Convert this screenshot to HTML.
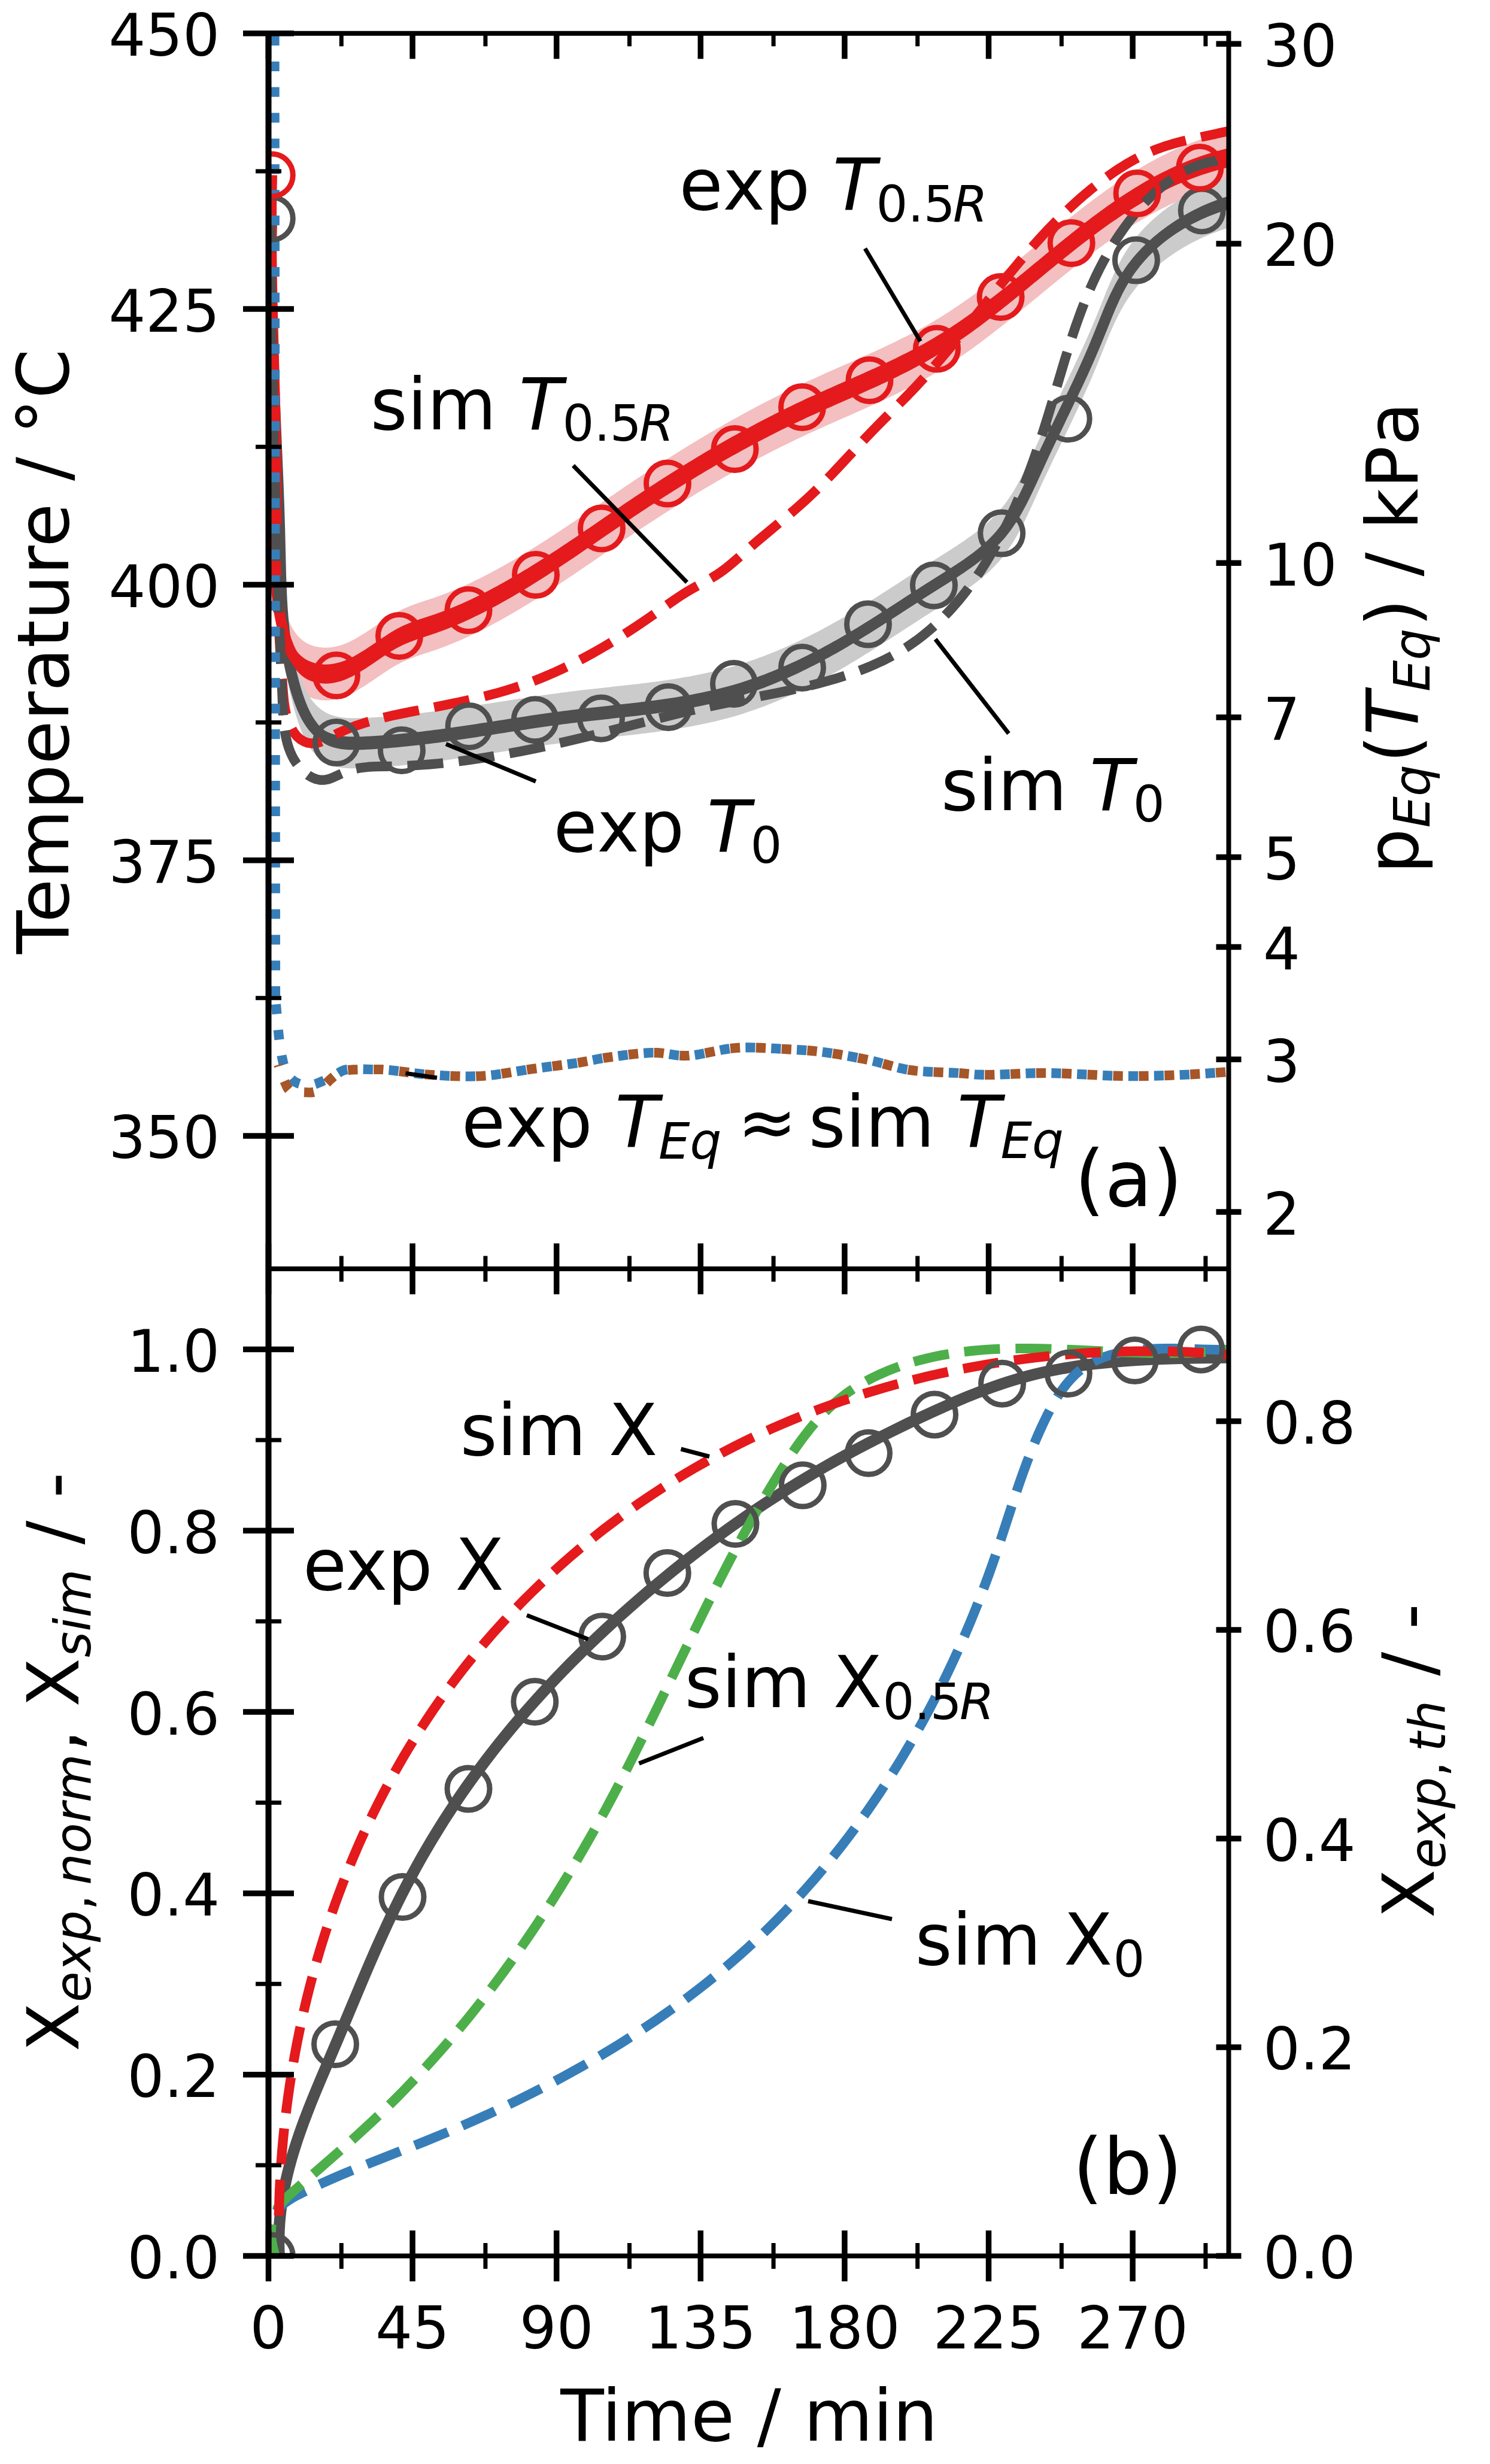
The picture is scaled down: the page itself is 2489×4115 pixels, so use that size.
<!DOCTYPE html>
<html><head><meta charset="utf-8"><title>Figure</title>
<style>html,body{margin:0;padding:0;background:#fff;}svg{display:block;}</style>
</head><body>
<svg xmlns:xlink="http://www.w3.org/1999/xlink" width="2489" height="4115" viewBox="0 0 2489 4115" xmlns="http://www.w3.org/2000/svg" version="1.1">
 <defs>
  <style type="text/css">*{stroke-linejoin: round; stroke-linecap: butt}</style>
 </defs>
 <g id="figure_1">
  <g id="patch_1">
   <path d="M 0 4115 
L 2489 4115 
L 2489 0 
L 0 0 
z
" style="fill: #ffffff"/>
  </g>
  <g id="axes_1">
   <g id="patch_2">
    <path d="M 454.02 248.48 
L 453.86 255.07 
L 453.72 261.66 
L 453.6 268.26 
L 453.48 274.85 
L 453.38 281.44 
L 453.29 288.03 
L 453.22 294.62 
L 453.15 301.2 
L 453.1 307.79 
L 453.07 314.38 
L 453.04 320.97 
L 453.02 327.55 
L 453.02 334.14 
L 453.02 340.72 
L 453.04 347.3 
L 453.06 353.89 
L 453.1 360.47 
L 453.14 367.05 
L 453.2 373.63 
L 453.26 380.21 
L 453.33 386.79 
L 453.41 393.37 
L 453.5 399.95 
L 453.59 406.53 
L 453.69 413.11 
L 453.8 419.68 
L 453.91 426.26 
L 454.03 432.84 
L 454.16 439.41 
L 454.29 445.99 
L 454.43 452.56 
L 454.57 459.14 
L 454.72 465.71 
L 454.87 472.29 
L 455.03 478.86 
L 455.19 485.44 
L 455.35 492.01 
L 455.52 498.58 
L 455.69 505.16 
L 455.86 511.73 
L 456.03 518.3 
L 456.21 524.87 
L 456.39 531.45 
L 456.57 538.02 
L 456.74 544.59 
L 456.93 551.16 
L 457.11 557.73 
L 457.29 564.3 
L 457.47 570.88 
L 457.65 577.45 
L 457.83 584.02 
L 458 590.59 
L 458.18 597.16 
L 458.36 603.73 
L 458.53 610.3 
L 458.7 616.87 
L 458.87 623.44 
L 459.03 630.02 
L 459.19 636.59 
L 459.35 643.16 
L 459.5 649.73 
L 459.65 656.3 
L 459.8 662.87 
L 459.94 669.45 
L 460.07 676.02 
L 460.2 682.59 
L 460.32 689.16 
L 460.44 695.74 
L 460.55 702.31 
L 460.66 708.88 
L 460.75 715.45 
L 460.84 722.03 
L 460.92 728.6 
L 461 735.18 
L 461.06 741.75 
L 461.12 748.33 
L 461.17 754.9 
L 461.21 761.48 
L 461.24 768.05 
L 461.26 774.63 
L 461.27 781.21 
L 461.27 787.78 
L 461.26 794.36 
L 461.23 800.94 
L 461.2 807.52 
L 461.15 814.1 
L 461.1 820.68 
L 461.03 827.26 
L 460.94 833.84 
L 460.85 840.42 
L 460.74 847 
L 460.64 853.59 
L 460.54 860.17 
L 460.45 866.76 
L 460.37 873.34 
L 460.32 879.93 
L 460.3 886.52 
L 460.32 893.11 
L 460.37 899.71 
L 460.48 906.3 
L 460.64 912.9 
L 460.87 919.5 
L 461.16 926.1 
L 461.52 932.71 
L 461.97 939.32 
L 462.5 945.93 
L 463.13 952.54 
L 463.86 959.16 
L 464.69 965.78 
L 465.64 972.41 
L 466.7 979.04 
L 467.89 985.67 
L 469.21 992.31 
L 470.67 998.95 
L 472.28 1005.6 
L 474.03 1012.25 
L 475.96 1018.86 
L 478.07 1025.38 
L 480.4 1031.77 
L 482.95 1037.98 
L 485.75 1043.95 
L 488.83 1049.63 
L 492.19 1054.98 
L 495.87 1059.94 
L 499.88 1064.47 
L 504.24 1068.51 
L 508.97 1072.01 
L 514.06 1074.96 
L 519.46 1077.36 
L 525.12 1079.23 
L 530.99 1080.56 
L 537.03 1081.37 
L 543.17 1081.68 
L 549.38 1081.48 
L 555.59 1080.79 
L 561.78 1079.61 
L 567.9 1077.98 
L 573.97 1075.93 
L 579.98 1073.5 
L 585.95 1070.74 
L 591.89 1067.68 
L 597.79 1064.37 
L 603.66 1060.85 
L 609.51 1057.15 
L 615.34 1053.32 
L 621.15 1049.4 
L 626.97 1045.43 
L 632.78 1041.45 
L 638.59 1037.51 
L 644.41 1033.63 
L 650.25 1029.87 
L 656.11 1026.27 
L 662 1022.86 
L 667.91 1019.69 
L 673.86 1016.79 
L 679.85 1014.14 
L 685.86 1011.69 
L 691.9 1009.42 
L 697.95 1007.28 
L 704.02 1005.23 
L 710.1 1003.23 
L 716.18 1001.24 
L 722.26 999.23 
L 728.33 997.15 
L 734.4 994.98 
L 740.45 992.74 
L 746.5 990.42 
L 752.53 988.02 
L 758.55 985.55 
L 764.56 983 
L 770.56 980.4 
L 776.54 977.72 
L 782.51 974.98 
L 788.46 972.19 
L 794.39 969.33 
L 800.31 966.43 
L 806.21 963.47 
L 812.09 960.46 
L 817.95 957.4 
L 823.79 954.31 
L 829.61 951.17 
L 835.41 947.99 
L 841.18 944.78 
L 846.94 941.53 
L 852.67 938.25 
L 858.37 934.94 
L 864.06 931.61 
L 869.73 928.24 
L 875.37 924.84 
L 881 921.42 
L 886.61 917.98 
L 892.21 914.5 
L 897.79 911.01 
L 903.35 907.5 
L 908.9 903.96 
L 914.43 900.4 
L 919.96 896.83 
L 925.47 893.24 
L 930.97 889.63 
L 936.45 886 
L 941.93 882.37 
L 947.4 878.72 
L 952.86 875.06 
L 958.32 871.38 
L 963.76 867.7 
L 969.21 864.01 
L 974.64 860.31 
L 980.07 856.61 
L 985.5 852.9 
L 990.93 849.19 
L 996.35 845.47 
L 1001.78 841.76 
L 1007.2 838.04 
L 1012.62 834.32 
L 1018.05 830.61 
L 1023.47 826.9 
L 1028.9 823.19 
L 1034.34 819.49 
L 1039.77 815.79 
L 1045.21 812.1 
L 1050.66 808.42 
L 1056.12 804.75 
L 1061.58 801.09 
L 1067.05 797.45 
L 1072.53 793.81 
L 1078.02 790.19 
L 1083.52 786.58 
L 1089.02 782.98 
L 1094.53 779.4 
L 1100.05 775.83 
L 1105.58 772.27 
L 1111.12 768.72 
L 1116.67 765.19 
L 1122.23 761.68 
L 1127.79 758.17 
L 1133.37 754.69 
L 1138.95 751.22 
L 1144.55 747.76 
L 1150.15 744.32 
L 1155.76 740.89 
L 1161.38 737.48 
L 1167.01 734.09 
L 1172.65 730.71 
L 1178.3 727.35 
L 1183.96 724 
L 1189.63 720.67 
L 1195.31 717.36 
L 1201 714.07 
L 1206.7 710.8 
L 1212.4 707.54 
L 1218.12 704.3 
L 1223.85 701.08 
L 1229.59 697.88 
L 1235.34 694.7 
L 1241.1 691.53 
L 1246.87 688.39 
L 1252.65 685.26 
L 1258.44 682.16 
L 1264.24 679.07 
L 1270.06 676.01 
L 1275.88 672.96 
L 1281.71 669.94 
L 1287.56 666.94 
L 1293.41 663.96 
L 1299.28 661 
L 1305.16 658.06 
L 1311.05 655.14 
L 1316.95 652.25 
L 1322.86 649.38 
L 1328.78 646.53 
L 1334.72 643.71 
L 1340.67 640.9 
L 1346.62 638.12 
L 1352.59 635.37 
L 1358.57 632.63 
L 1364.56 629.91 
L 1370.55 627.21 
L 1376.55 624.52 
L 1382.56 621.84 
L 1388.57 619.17 
L 1394.58 616.51 
L 1400.59 613.85 
L 1406.61 611.2 
L 1412.62 608.55 
L 1418.64 605.89 
L 1424.65 603.24 
L 1430.65 600.58 
L 1436.65 597.91 
L 1442.65 595.24 
L 1448.63 592.55 
L 1454.61 589.85 
L 1460.58 587.13 
L 1466.54 584.4 
L 1472.49 581.65 
L 1478.42 578.88 
L 1484.34 576.08 
L 1490.24 573.26 
L 1496.13 570.41 
L 1502 567.53 
L 1507.85 564.62 
L 1513.68 561.68 
L 1519.49 558.7 
L 1525.28 555.68 
L 1531.05 552.62 
L 1536.79 549.52 
L 1542.5 546.38 
L 1548.19 543.19 
L 1553.85 539.95 
L 1559.48 536.66 
L 1565.09 533.32 
L 1570.66 529.93 
L 1576.2 526.49 
L 1581.71 522.99 
L 1587.2 519.45 
L 1592.66 515.87 
L 1598.1 512.23 
L 1603.51 508.56 
L 1608.89 504.85 
L 1614.26 501.09 
L 1619.6 497.3 
L 1624.92 493.47 
L 1630.22 489.61 
L 1635.5 485.71 
L 1640.77 481.79 
L 1646.02 477.83 
L 1651.25 473.85 
L 1656.46 469.84 
L 1661.67 465.8 
L 1666.85 461.74 
L 1672.03 457.67 
L 1677.2 453.57 
L 1682.35 449.45 
L 1687.5 445.32 
L 1692.63 441.17 
L 1697.76 437.01 
L 1702.88 432.84 
L 1708 428.66 
L 1713.11 424.47 
L 1718.22 420.27 
L 1723.32 416.07 
L 1728.43 411.87 
L 1733.53 407.66 
L 1738.63 403.46 
L 1743.73 399.25 
L 1748.84 395.05 
L 1753.94 390.86 
L 1759.06 386.67 
L 1764.17 382.49 
L 1769.29 378.32 
L 1774.42 374.16 
L 1779.55 370.02 
L 1784.7 365.89 
L 1789.85 361.78 
L 1795.01 357.68 
L 1800.19 353.61 
L 1805.37 349.56 
L 1810.57 345.53 
L 1815.79 341.52 
L 1821.02 337.54 
L 1826.26 333.59 
L 1831.52 329.67 
L 1836.8 325.79 
L 1842.1 321.93 
L 1847.42 318.11 
L 1852.75 314.33 
L 1858.11 310.58 
L 1863.5 306.88 
L 1868.9 303.21 
L 1874.33 299.59 
L 1879.79 296.01 
L 1885.27 292.48 
L 1890.78 289 
L 1896.31 285.57 
L 1901.88 282.19 
L 1907.48 278.86 
L 1913.1 275.59 
L 1918.76 272.37 
L 1924.46 269.21 
L 1930.18 266.11 
L 1935.94 263.07 
L 1941.74 260.1 
L 1947.57 257.19 
L 1953.44 254.34 
L 1959.35 251.57 
L 1965.3 248.86 
L 1971.29 246.22 
L 1977.32 243.66 
L 1983.39 241.17 
L 1989.51 238.76 
L 1995.67 236.42 
L 2001.87 234.17 
L 2008.13 231.99 
L 2014.42 229.9 
L 2020.77 227.89 
L 2027.17 225.97 
L 2033.61 224.14 
L 2040.11 222.39 
L 2046.65 220.74 
L 2053.26 219.18 
L 2053.26 307.18 
L 2046.65 308.74 
L 2040.11 310.39 
L 2033.61 312.14 
L 2027.17 313.97 
L 2020.77 315.89 
L 2014.42 317.9 
L 2008.13 319.99 
L 2001.87 322.17 
L 1995.67 324.42 
L 1989.51 326.76 
L 1983.39 329.17 
L 1977.32 331.66 
L 1971.29 334.22 
L 1965.3 336.86 
L 1959.35 339.57 
L 1953.44 342.34 
L 1947.57 345.19 
L 1941.74 348.1 
L 1935.94 351.07 
L 1930.18 354.11 
L 1924.46 357.21 
L 1918.76 360.37 
L 1913.1 363.59 
L 1907.48 366.86 
L 1901.88 370.19 
L 1896.31 373.57 
L 1890.78 377 
L 1885.27 380.48 
L 1879.79 384.01 
L 1874.33 387.59 
L 1868.9 391.21 
L 1863.5 394.88 
L 1858.11 398.58 
L 1852.75 402.33 
L 1847.42 406.11 
L 1842.1 409.93 
L 1836.8 413.79 
L 1831.52 417.67 
L 1826.26 421.59 
L 1821.02 425.54 
L 1815.79 429.52 
L 1810.57 433.53 
L 1805.37 437.56 
L 1800.19 441.61 
L 1795.01 445.68 
L 1789.85 449.78 
L 1784.7 453.89 
L 1779.55 458.02 
L 1774.42 462.16 
L 1769.29 466.32 
L 1764.17 470.49 
L 1759.06 474.67 
L 1753.94 478.86 
L 1748.84 483.05 
L 1743.73 487.25 
L 1738.63 491.46 
L 1733.53 495.66 
L 1728.43 499.87 
L 1723.32 504.07 
L 1718.22 508.27 
L 1713.11 512.47 
L 1708 516.66 
L 1702.88 520.84 
L 1697.76 525.01 
L 1692.63 529.17 
L 1687.5 533.32 
L 1682.35 537.45 
L 1677.2 541.57 
L 1672.03 545.67 
L 1666.85 549.74 
L 1661.67 553.8 
L 1656.46 557.84 
L 1651.25 561.85 
L 1646.02 565.83 
L 1640.77 569.79 
L 1635.5 573.71 
L 1630.22 577.61 
L 1624.92 581.47 
L 1619.6 585.3 
L 1614.26 589.09 
L 1608.89 592.85 
L 1603.51 596.56 
L 1598.1 600.23 
L 1592.66 603.87 
L 1587.2 607.45 
L 1581.71 610.99 
L 1576.2 614.49 
L 1570.66 617.93 
L 1565.09 621.32 
L 1559.48 624.66 
L 1553.85 627.95 
L 1548.19 631.19 
L 1542.5 634.38 
L 1536.79 637.52 
L 1531.05 640.62 
L 1525.28 643.68 
L 1519.49 646.7 
L 1513.68 649.68 
L 1507.85 652.62 
L 1502 655.53 
L 1496.13 658.41 
L 1490.24 661.26 
L 1484.34 664.08 
L 1478.42 666.88 
L 1472.49 669.65 
L 1466.54 672.4 
L 1460.58 675.13 
L 1454.61 677.85 
L 1448.63 680.55 
L 1442.65 683.24 
L 1436.65 685.91 
L 1430.65 688.58 
L 1424.65 691.24 
L 1418.64 693.89 
L 1412.62 696.55 
L 1406.61 699.2 
L 1400.59 701.85 
L 1394.58 704.51 
L 1388.57 707.17 
L 1382.56 709.84 
L 1376.55 712.52 
L 1370.55 715.21 
L 1364.56 717.91 
L 1358.57 720.63 
L 1352.59 723.37 
L 1346.62 726.12 
L 1340.67 728.9 
L 1334.72 731.71 
L 1328.78 734.53 
L 1322.86 737.38 
L 1316.95 740.25 
L 1311.05 743.14 
L 1305.16 746.06 
L 1299.28 749 
L 1293.41 751.96 
L 1287.56 754.94 
L 1281.71 757.94 
L 1275.88 760.96 
L 1270.06 764.01 
L 1264.24 767.07 
L 1258.44 770.16 
L 1252.65 773.26 
L 1246.87 776.39 
L 1241.1 779.53 
L 1235.34 782.7 
L 1229.59 785.88 
L 1223.85 789.08 
L 1218.12 792.3 
L 1212.4 795.54 
L 1206.7 798.8 
L 1201 802.07 
L 1195.31 805.36 
L 1189.63 808.67 
L 1183.96 812 
L 1178.3 815.35 
L 1172.65 818.71 
L 1167.01 822.09 
L 1161.38 825.48 
L 1155.76 828.89 
L 1150.15 832.32 
L 1144.55 835.76 
L 1138.95 839.22 
L 1133.37 842.69 
L 1127.79 846.17 
L 1122.23 849.68 
L 1116.67 853.19 
L 1111.12 856.72 
L 1105.58 860.27 
L 1100.05 863.83 
L 1094.53 867.4 
L 1089.02 870.98 
L 1083.52 874.58 
L 1078.02 878.19 
L 1072.53 881.81 
L 1067.05 885.45 
L 1061.58 889.09 
L 1056.12 892.75 
L 1050.66 896.42 
L 1045.21 900.1 
L 1039.77 903.79 
L 1034.34 907.49 
L 1028.9 911.19 
L 1023.47 914.9 
L 1018.05 918.61 
L 1012.62 922.32 
L 1007.2 926.04 
L 1001.78 929.76 
L 996.35 933.47 
L 990.93 937.19 
L 985.5 940.9 
L 980.07 944.61 
L 974.64 948.31 
L 969.21 952.01 
L 963.76 955.7 
L 958.32 959.38 
L 952.86 963.06 
L 947.4 966.72 
L 941.93 970.37 
L 936.45 974 
L 930.97 977.63 
L 925.47 981.24 
L 919.96 984.83 
L 914.43 988.4 
L 908.9 991.96 
L 903.35 995.5 
L 897.79 999.01 
L 892.21 1002.5 
L 886.61 1005.98 
L 881 1009.42 
L 875.37 1012.84 
L 869.73 1016.24 
L 864.06 1019.61 
L 858.37 1022.94 
L 852.67 1026.25 
L 846.94 1029.53 
L 841.18 1032.78 
L 835.41 1035.99 
L 829.61 1039.17 
L 823.79 1042.31 
L 817.95 1045.4 
L 812.09 1048.46 
L 806.21 1051.47 
L 800.31 1054.43 
L 794.39 1057.33 
L 788.46 1060.19 
L 782.51 1062.98 
L 776.54 1065.72 
L 770.56 1068.4 
L 764.56 1071 
L 758.55 1073.55 
L 752.53 1076.02 
L 746.5 1078.42 
L 740.45 1080.74 
L 734.4 1082.98 
L 728.33 1085.15 
L 722.26 1087.23 
L 716.18 1089.24 
L 710.1 1091.23 
L 704.02 1093.23 
L 697.95 1095.28 
L 691.9 1097.42 
L 685.86 1099.69 
L 679.85 1102.14 
L 673.86 1104.79 
L 667.91 1107.69 
L 662 1110.86 
L 656.11 1114.27 
L 650.25 1117.87 
L 644.41 1121.63 
L 638.59 1125.51 
L 632.78 1129.45 
L 626.97 1133.43 
L 621.15 1137.4 
L 615.34 1141.32 
L 609.51 1145.15 
L 603.66 1148.85 
L 597.79 1152.37 
L 591.89 1155.68 
L 585.95 1158.74 
L 579.98 1161.5 
L 573.97 1163.93 
L 567.9 1165.98 
L 561.78 1167.61 
L 555.59 1168.79 
L 549.38 1169.48 
L 543.17 1169.68 
L 537.03 1169.37 
L 530.99 1168.56 
L 525.12 1167.23 
L 519.46 1165.36 
L 514.06 1162.96 
L 508.97 1160.01 
L 504.24 1156.51 
L 499.88 1152.47 
L 495.87 1147.94 
L 492.19 1142.98 
L 488.83 1137.63 
L 485.75 1131.95 
L 482.95 1125.98 
L 480.4 1119.77 
L 478.07 1113.38 
L 475.96 1106.86 
L 474.03 1100.25 
L 472.28 1093.6 
L 470.67 1086.95 
L 469.21 1080.31 
L 467.89 1073.67 
L 466.7 1067.04 
L 465.64 1060.41 
L 464.69 1053.78 
L 463.86 1047.16 
L 463.13 1040.54 
L 462.5 1033.93 
L 461.97 1027.32 
L 461.52 1020.71 
L 461.16 1014.1 
L 460.87 1007.5 
L 460.64 1000.9 
L 460.48 994.3 
L 460.37 987.71 
L 460.32 981.11 
L 460.3 974.52 
L 460.32 967.93 
L 460.37 961.34 
L 460.45 954.76 
L 460.54 948.17 
L 460.64 941.59 
L 460.74 935 
L 460.85 928.42 
L 460.94 921.84 
L 461.03 915.26 
L 461.1 908.68 
L 461.15 902.1 
L 461.2 895.52 
L 461.23 888.94 
L 461.26 882.36 
L 461.27 875.78 
L 461.27 869.21 
L 461.26 862.63 
L 461.24 856.05 
L 461.21 849.48 
L 461.17 842.9 
L 461.12 836.33 
L 461.06 829.75 
L 461 823.18 
L 460.92 816.6 
L 460.84 810.03 
L 460.75 803.45 
L 460.66 796.88 
L 460.55 790.31 
L 460.44 783.74 
L 460.32 777.16 
L 460.2 770.59 
L 460.07 764.02 
L 459.94 757.45 
L 459.8 750.87 
L 459.65 744.3 
L 459.5 737.73 
L 459.35 731.16 
L 459.19 724.59 
L 459.03 718.02 
L 458.87 711.44 
L 458.7 704.87 
L 458.53 698.3 
L 458.36 691.73 
L 458.18 685.16 
L 458 678.59 
L 457.83 672.02 
L 457.65 665.45 
L 457.47 658.88 
L 457.29 652.3 
L 457.11 645.73 
L 456.93 639.16 
L 456.74 632.59 
L 456.57 626.02 
L 456.39 619.45 
L 456.21 612.87 
L 456.03 606.3 
L 455.86 599.73 
L 455.69 593.16 
L 455.52 586.58 
L 455.35 580.01 
L 455.19 573.44 
L 455.03 566.86 
L 454.87 560.29 
L 454.72 553.71 
L 454.57 547.14 
L 454.43 540.56 
L 454.29 533.99 
L 454.16 527.41 
L 454.03 520.84 
L 453.91 514.26 
L 453.8 507.68 
L 453.69 501.11 
L 453.59 494.53 
L 453.5 487.95 
L 453.41 481.37 
L 453.33 474.79 
L 453.26 468.21 
L 453.2 461.63 
L 453.14 455.05 
L 453.1 448.47 
L 453.06 441.89 
L 453.04 435.3 
L 453.02 428.72 
L 453.02 422.14 
L 453.02 415.55 
L 453.04 408.97 
L 453.07 402.38 
L 453.1 395.79 
L 453.15 389.2 
L 453.22 382.62 
L 453.29 376.03 
L 453.38 369.44 
L 453.48 362.85 
L 453.6 356.26 
L 453.72 349.66 
L 453.86 343.07 
L 454.02 336.48 
z
" clip-path="url(#p20d32cc2dd)" style="fill: #f3bfc0"/>
   </g>
   <g id="patch_3">
    <path d="M 454.2 322.86 
L 453.99 329.96 
L 453.8 337.05 
L 453.63 344.14 
L 453.48 351.22 
L 453.35 358.29 
L 453.23 365.36 
L 453.14 372.42 
L 453.06 379.47 
L 453 386.53 
L 452.96 393.57 
L 452.94 400.61 
L 452.93 407.65 
L 452.94 414.68 
L 452.96 421.71 
L 453 428.73 
L 453.05 435.75 
L 453.12 442.76 
L 453.2 449.77 
L 453.3 456.77 
L 453.41 463.78 
L 453.53 470.77 
L 453.66 477.77 
L 453.81 484.76 
L 453.96 491.75 
L 454.13 498.74 
L 454.31 505.72 
L 454.5 512.7 
L 454.7 519.68 
L 454.9 526.65 
L 455.12 533.63 
L 455.34 540.6 
L 455.58 547.57 
L 455.82 554.54 
L 456.07 561.5 
L 456.32 568.47 
L 456.58 575.43 
L 456.85 582.39 
L 457.12 589.35 
L 457.4 596.31 
L 457.68 603.27 
L 457.97 610.23 
L 458.26 617.19 
L 458.55 624.15 
L 458.85 631.11 
L 459.15 638.07 
L 459.46 645.03 
L 459.76 651.99 
L 460.07 658.95 
L 460.37 665.91 
L 460.68 672.87 
L 460.99 679.83 
L 461.3 686.8 
L 461.6 693.76 
L 461.91 700.73 
L 462.21 707.7 
L 462.52 714.67 
L 462.82 721.64 
L 463.11 728.61 
L 463.41 735.59 
L 463.7 742.56 
L 463.98 749.55 
L 464.27 756.53 
L 464.54 763.52 
L 464.82 770.5 
L 465.08 777.5 
L 465.34 784.49 
L 465.6 791.49 
L 465.85 798.49 
L 466.09 805.5 
L 466.32 812.51 
L 466.54 819.52 
L 466.76 826.54 
L 466.97 833.56 
L 467.16 840.59 
L 467.35 847.62 
L 467.53 854.66 
L 467.69 861.7 
L 467.85 868.75 
L 468.01 875.8 
L 468.16 882.85 
L 468.31 889.91 
L 468.47 896.97 
L 468.64 904.03 
L 468.82 911.1 
L 469.02 918.16 
L 469.24 925.23 
L 469.48 932.29 
L 469.75 939.36 
L 470.04 946.43 
L 470.38 953.49 
L 470.75 960.55 
L 471.16 967.62 
L 471.62 974.68 
L 472.12 981.73 
L 472.68 988.78 
L 473.29 995.83 
L 473.96 1002.88 
L 474.69 1009.92 
L 475.49 1016.95 
L 476.36 1023.98 
L 477.31 1031 
L 478.32 1038.02 
L 479.42 1045.03 
L 480.61 1052.03 
L 481.88 1059.02 
L 483.24 1066 
L 484.7 1072.98 
L 486.25 1079.94 
L 487.91 1086.9 
L 489.67 1093.84 
L 491.54 1100.78 
L 493.52 1107.7 
L 495.62 1114.61 
L 497.85 1121.48 
L 500.22 1128.27 
L 502.75 1134.95 
L 505.45 1141.49 
L 508.35 1147.84 
L 511.45 1153.97 
L 514.77 1159.84 
L 518.33 1165.41 
L 522.14 1170.66 
L 526.22 1175.54 
L 530.58 1180.01 
L 535.25 1184.05 
L 540.22 1187.61 
L 545.53 1190.65 
L 551.18 1193.16 
L 557.13 1195.17 
L 563.36 1196.73 
L 569.84 1197.88 
L 576.52 1198.66 
L 583.38 1199.14 
L 590.39 1199.35 
L 597.5 1199.33 
L 604.68 1199.14 
L 611.91 1198.83 
L 619.15 1198.43 
L 626.36 1197.99 
L 633.57 1197.51 
L 640.75 1196.98 
L 647.91 1196.42 
L 655.06 1195.82 
L 662.19 1195.19 
L 669.31 1194.52 
L 676.41 1193.81 
L 683.49 1193.08 
L 690.56 1192.31 
L 697.62 1191.52 
L 704.66 1190.7 
L 711.7 1189.85 
L 718.71 1188.98 
L 725.72 1188.08 
L 732.72 1187.17 
L 739.71 1186.23 
L 746.68 1185.27 
L 753.65 1184.3 
L 760.61 1183.31 
L 767.56 1182.31 
L 774.5 1181.29 
L 781.44 1180.26 
L 788.37 1179.22 
L 795.29 1178.17 
L 802.21 1177.11 
L 809.12 1176.05 
L 816.03 1174.98 
L 822.94 1173.91 
L 829.84 1172.83 
L 836.74 1171.76 
L 843.64 1170.69 
L 850.53 1169.61 
L 857.43 1168.55 
L 864.32 1167.48 
L 871.22 1166.43 
L 878.11 1165.38 
L 885.01 1164.34 
L 891.91 1163.31 
L 898.81 1162.29 
L 905.71 1161.29 
L 912.62 1160.3 
L 919.53 1159.33 
L 926.44 1158.38 
L 933.36 1157.44 
L 940.29 1156.53 
L 947.22 1155.63 
L 954.16 1154.76 
L 961.1 1153.92 
L 968.06 1153.09 
L 975.01 1152.28 
L 981.97 1151.48 
L 988.94 1150.7 
L 995.91 1149.92 
L 1002.88 1149.16 
L 1009.85 1148.39 
L 1016.83 1147.63 
L 1023.8 1146.87 
L 1030.78 1146.1 
L 1037.75 1145.33 
L 1044.73 1144.55 
L 1051.7 1143.77 
L 1058.67 1142.96 
L 1065.64 1142.14 
L 1072.6 1141.31 
L 1079.56 1140.45 
L 1086.52 1139.57 
L 1093.46 1138.66 
L 1100.41 1137.73 
L 1107.34 1136.76 
L 1114.27 1135.76 
L 1121.19 1134.72 
L 1128.11 1133.65 
L 1135.01 1132.53 
L 1141.9 1131.37 
L 1148.79 1130.17 
L 1155.66 1128.91 
L 1162.52 1127.61 
L 1169.37 1126.25 
L 1176.2 1124.83 
L 1183.02 1123.36 
L 1189.83 1121.82 
L 1196.62 1120.22 
L 1203.4 1118.56 
L 1210.16 1116.82 
L 1216.9 1115.01 
L 1223.62 1113.13 
L 1230.33 1111.18 
L 1237.02 1109.14 
L 1243.69 1107.03 
L 1250.34 1104.84 
L 1256.97 1102.58 
L 1263.58 1100.25 
L 1270.17 1097.85 
L 1276.74 1095.39 
L 1283.29 1092.85 
L 1289.81 1090.25 
L 1296.32 1087.59 
L 1302.8 1084.87 
L 1309.26 1082.09 
L 1315.69 1079.25 
L 1322.1 1076.35 
L 1328.49 1073.4 
L 1334.85 1070.4 
L 1341.19 1067.35 
L 1347.51 1064.25 
L 1353.79 1061.1 
L 1360.06 1057.91 
L 1366.29 1054.67 
L 1372.5 1051.39 
L 1378.68 1048.07 
L 1384.84 1044.71 
L 1390.97 1041.31 
L 1397.07 1037.88 
L 1403.14 1034.41 
L 1409.18 1030.91 
L 1415.2 1027.38 
L 1421.19 1023.83 
L 1427.16 1020.24 
L 1433.11 1016.63 
L 1439.04 1013 
L 1444.96 1009.34 
L 1450.86 1005.66 
L 1456.75 1001.97 
L 1462.63 998.25 
L 1468.49 994.52 
L 1474.35 990.78 
L 1480.21 987.02 
L 1486.06 983.25 
L 1491.91 979.48 
L 1497.76 975.69 
L 1503.61 971.9 
L 1509.47 968.1 
L 1515.33 964.3 
L 1521.19 960.5 
L 1527.07 956.7 
L 1532.96 952.9 
L 1538.86 949.1 
L 1544.77 945.31 
L 1550.71 941.52 
L 1556.66 937.75 
L 1562.63 933.98 
L 1568.61 930.22 
L 1574.61 926.45 
L 1580.6 922.68 
L 1586.58 918.89 
L 1592.53 915.07 
L 1598.46 911.22 
L 1604.34 907.32 
L 1610.17 903.38 
L 1615.94 899.37 
L 1621.64 895.3 
L 1627.27 891.15 
L 1632.8 886.92 
L 1638.23 882.59 
L 1643.55 878.17 
L 1648.76 873.64 
L 1653.83 868.99 
L 1658.77 864.21 
L 1663.56 859.31 
L 1668.19 854.26 
L 1672.66 849.06 
L 1676.96 843.71 
L 1681.09 838.22 
L 1685.08 832.59 
L 1688.92 826.83 
L 1692.63 820.97 
L 1696.22 815 
L 1699.7 808.93 
L 1703.08 802.78 
L 1706.38 796.55 
L 1709.59 790.25 
L 1712.73 783.9 
L 1715.82 777.5 
L 1718.85 771.07 
L 1721.85 764.61 
L 1724.83 758.13 
L 1727.78 751.64 
L 1730.73 745.16 
L 1733.68 738.69 
L 1736.64 732.23 
L 1739.62 725.81 
L 1742.61 719.4 
L 1745.61 713.01 
L 1748.62 706.63 
L 1751.64 700.28 
L 1754.66 693.94 
L 1757.69 687.61 
L 1760.73 681.29 
L 1763.77 674.98 
L 1766.81 668.69 
L 1769.85 662.4 
L 1772.88 656.11 
L 1775.92 649.83 
L 1778.95 643.55 
L 1781.97 637.28 
L 1784.99 631 
L 1788 624.72 
L 1790.99 618.44 
L 1793.98 612.15 
L 1796.95 605.86 
L 1799.91 599.56 
L 1802.85 593.25 
L 1805.77 586.94 
L 1808.68 580.6 
L 1811.56 574.26 
L 1814.43 567.9 
L 1817.27 561.52 
L 1820.08 555.13 
L 1822.87 548.72 
L 1825.63 542.28 
L 1828.36 535.83 
L 1831.06 529.35 
L 1833.73 522.84 
L 1836.37 516.31 
L 1838.99 509.76 
L 1841.61 503.21 
L 1844.23 496.65 
L 1846.86 490.11 
L 1849.53 483.57 
L 1852.23 477.06 
L 1854.99 470.58 
L 1857.81 464.14 
L 1860.71 457.75 
L 1863.69 451.42 
L 1866.78 445.14 
L 1869.97 438.94 
L 1873.29 432.82 
L 1876.74 426.78 
L 1880.34 420.84 
L 1884.1 415.01 
L 1888.02 409.28 
L 1892.11 403.67 
L 1896.37 398.16 
L 1900.77 392.78 
L 1905.33 387.51 
L 1910.03 382.36 
L 1914.87 377.32 
L 1919.84 372.4 
L 1924.94 367.61 
L 1930.17 362.93 
L 1935.51 358.38 
L 1940.97 353.95 
L 1946.53 349.64 
L 1952.2 345.46 
L 1957.97 341.4 
L 1963.83 337.47 
L 1969.77 333.67 
L 1975.8 330 
L 1981.9 326.46 
L 1988.07 323.05 
L 1994.31 319.77 
L 2000.61 316.63 
L 2006.97 313.62 
L 2013.38 310.74 
L 2019.83 308 
L 2026.32 305.4 
L 2032.85 302.94 
L 2039.4 300.61 
L 2045.98 298.43 
L 2052.58 296.39 
L 2052.58 380.39 
L 2045.98 382.43 
L 2039.4 384.61 
L 2032.85 386.94 
L 2026.32 389.4 
L 2019.83 392 
L 2013.38 394.74 
L 2006.97 397.62 
L 2000.61 400.63 
L 1994.31 403.77 
L 1988.07 407.05 
L 1981.9 410.46 
L 1975.8 414 
L 1969.77 417.67 
L 1963.83 421.47 
L 1957.97 425.4 
L 1952.2 429.46 
L 1946.53 433.64 
L 1940.97 437.95 
L 1935.51 442.38 
L 1930.17 446.93 
L 1924.94 451.61 
L 1919.84 456.4 
L 1914.87 461.32 
L 1910.03 466.36 
L 1905.33 471.51 
L 1900.77 476.78 
L 1896.37 482.16 
L 1892.11 487.67 
L 1888.02 493.28 
L 1884.1 499.01 
L 1880.34 504.84 
L 1876.74 510.78 
L 1873.29 516.82 
L 1869.97 522.94 
L 1866.78 529.14 
L 1863.69 535.42 
L 1860.71 541.75 
L 1857.81 548.14 
L 1854.99 554.58 
L 1852.23 561.06 
L 1849.53 567.57 
L 1846.86 574.11 
L 1844.23 580.65 
L 1841.61 587.21 
L 1838.99 593.76 
L 1836.37 600.31 
L 1833.73 606.84 
L 1831.06 613.35 
L 1828.36 619.83 
L 1825.63 626.28 
L 1822.87 632.72 
L 1820.08 639.13 
L 1817.27 645.52 
L 1814.43 651.9 
L 1811.56 658.26 
L 1808.68 664.6 
L 1805.77 670.94 
L 1802.85 677.25 
L 1799.91 683.56 
L 1796.95 689.86 
L 1793.98 696.15 
L 1790.99 702.44 
L 1788 708.72 
L 1784.99 715 
L 1781.97 721.28 
L 1778.95 727.55 
L 1775.92 733.83 
L 1772.88 740.11 
L 1769.85 746.4 
L 1766.81 752.69 
L 1763.77 758.98 
L 1760.73 765.29 
L 1757.69 771.61 
L 1754.66 777.94 
L 1751.64 784.28 
L 1748.62 790.63 
L 1745.61 797.01 
L 1742.61 803.4 
L 1739.62 809.81 
L 1736.64 816.23 
L 1733.68 822.69 
L 1730.73 829.16 
L 1727.78 835.64 
L 1724.83 842.13 
L 1721.85 848.61 
L 1718.85 855.07 
L 1715.82 861.5 
L 1712.73 867.9 
L 1709.59 874.25 
L 1706.38 880.55 
L 1703.08 886.78 
L 1699.7 892.93 
L 1696.22 899 
L 1692.63 904.97 
L 1688.92 910.83 
L 1685.08 916.59 
L 1681.09 922.22 
L 1676.96 927.71 
L 1672.66 933.06 
L 1668.19 938.26 
L 1663.56 943.31 
L 1658.77 948.21 
L 1653.83 952.99 
L 1648.76 957.64 
L 1643.55 962.17 
L 1638.23 966.59 
L 1632.8 970.92 
L 1627.27 975.15 
L 1621.64 979.3 
L 1615.94 983.37 
L 1610.17 987.38 
L 1604.34 991.32 
L 1598.46 995.22 
L 1592.53 999.07 
L 1586.58 1002.89 
L 1580.6 1006.68 
L 1574.61 1010.45 
L 1568.61 1014.22 
L 1562.63 1017.98 
L 1556.66 1021.75 
L 1550.71 1025.52 
L 1544.77 1029.31 
L 1538.86 1033.1 
L 1532.96 1036.9 
L 1527.07 1040.7 
L 1521.19 1044.5 
L 1515.33 1048.3 
L 1509.47 1052.1 
L 1503.61 1055.9 
L 1497.76 1059.69 
L 1491.91 1063.48 
L 1486.06 1067.25 
L 1480.21 1071.02 
L 1474.35 1074.78 
L 1468.49 1078.52 
L 1462.63 1082.25 
L 1456.75 1085.97 
L 1450.86 1089.66 
L 1444.96 1093.34 
L 1439.04 1097 
L 1433.11 1100.63 
L 1427.16 1104.24 
L 1421.19 1107.83 
L 1415.2 1111.38 
L 1409.18 1114.91 
L 1403.14 1118.41 
L 1397.07 1121.88 
L 1390.97 1125.31 
L 1384.84 1128.71 
L 1378.68 1132.07 
L 1372.5 1135.39 
L 1366.29 1138.67 
L 1360.06 1141.91 
L 1353.79 1145.1 
L 1347.51 1148.25 
L 1341.19 1151.35 
L 1334.85 1154.4 
L 1328.49 1157.4 
L 1322.1 1160.35 
L 1315.69 1163.25 
L 1309.26 1166.09 
L 1302.8 1168.87 
L 1296.32 1171.59 
L 1289.81 1174.25 
L 1283.29 1176.85 
L 1276.74 1179.39 
L 1270.17 1181.85 
L 1263.58 1184.25 
L 1256.97 1186.58 
L 1250.34 1188.84 
L 1243.69 1191.03 
L 1237.02 1193.14 
L 1230.33 1195.18 
L 1223.62 1197.13 
L 1216.9 1199.01 
L 1210.16 1200.82 
L 1203.4 1202.56 
L 1196.62 1204.22 
L 1189.83 1205.82 
L 1183.02 1207.36 
L 1176.2 1208.83 
L 1169.37 1210.25 
L 1162.52 1211.61 
L 1155.66 1212.91 
L 1148.79 1214.17 
L 1141.9 1215.37 
L 1135.01 1216.53 
L 1128.11 1217.65 
L 1121.19 1218.72 
L 1114.27 1219.76 
L 1107.34 1220.76 
L 1100.41 1221.73 
L 1093.46 1222.66 
L 1086.52 1223.57 
L 1079.56 1224.45 
L 1072.6 1225.31 
L 1065.64 1226.14 
L 1058.67 1226.96 
L 1051.7 1227.77 
L 1044.73 1228.55 
L 1037.75 1229.33 
L 1030.78 1230.1 
L 1023.8 1230.87 
L 1016.83 1231.63 
L 1009.85 1232.39 
L 1002.88 1233.16 
L 995.91 1233.92 
L 988.94 1234.7 
L 981.97 1235.48 
L 975.01 1236.28 
L 968.06 1237.09 
L 961.1 1237.92 
L 954.16 1238.76 
L 947.22 1239.63 
L 940.29 1240.53 
L 933.36 1241.44 
L 926.44 1242.38 
L 919.53 1243.33 
L 912.62 1244.3 
L 905.71 1245.29 
L 898.81 1246.29 
L 891.91 1247.31 
L 885.01 1248.34 
L 878.11 1249.38 
L 871.22 1250.43 
L 864.32 1251.48 
L 857.43 1252.55 
L 850.53 1253.61 
L 843.64 1254.69 
L 836.74 1255.76 
L 829.84 1256.83 
L 822.94 1257.91 
L 816.03 1258.98 
L 809.12 1260.05 
L 802.21 1261.11 
L 795.29 1262.17 
L 788.37 1263.22 
L 781.44 1264.26 
L 774.5 1265.29 
L 767.56 1266.31 
L 760.61 1267.31 
L 753.65 1268.3 
L 746.68 1269.27 
L 739.71 1270.23 
L 732.72 1271.17 
L 725.72 1272.08 
L 718.71 1272.98 
L 711.7 1273.85 
L 704.66 1274.7 
L 697.62 1275.52 
L 690.56 1276.31 
L 683.49 1277.08 
L 676.41 1277.81 
L 669.31 1278.52 
L 662.19 1279.19 
L 655.06 1279.82 
L 647.91 1280.42 
L 640.75 1280.98 
L 633.57 1281.51 
L 626.36 1281.99 
L 619.15 1282.43 
L 611.91 1282.83 
L 604.68 1283.14 
L 597.5 1283.33 
L 590.39 1283.35 
L 583.38 1283.14 
L 576.52 1282.66 
L 569.84 1281.88 
L 563.36 1280.73 
L 557.13 1279.17 
L 551.18 1277.16 
L 545.53 1274.65 
L 540.22 1271.61 
L 535.25 1268.05 
L 530.58 1264.01 
L 526.22 1259.54 
L 522.14 1254.66 
L 518.33 1249.41 
L 514.77 1243.84 
L 511.45 1237.97 
L 508.35 1231.84 
L 505.45 1225.49 
L 502.75 1218.95 
L 500.22 1212.27 
L 497.85 1205.48 
L 495.62 1198.61 
L 493.52 1191.7 
L 491.54 1184.78 
L 489.67 1177.84 
L 487.91 1170.9 
L 486.25 1163.94 
L 484.7 1156.98 
L 483.24 1150 
L 481.88 1143.02 
L 480.61 1136.03 
L 479.42 1129.03 
L 478.32 1122.02 
L 477.31 1115 
L 476.36 1107.98 
L 475.49 1100.95 
L 474.69 1093.92 
L 473.96 1086.88 
L 473.29 1079.83 
L 472.68 1072.78 
L 472.12 1065.73 
L 471.62 1058.68 
L 471.16 1051.62 
L 470.75 1044.55 
L 470.38 1037.49 
L 470.04 1030.43 
L 469.75 1023.36 
L 469.48 1016.29 
L 469.24 1009.23 
L 469.02 1002.16 
L 468.82 995.1 
L 468.64 988.03 
L 468.47 980.97 
L 468.31 973.91 
L 468.16 966.85 
L 468.01 959.8 
L 467.85 952.75 
L 467.69 945.7 
L 467.53 938.66 
L 467.35 931.62 
L 467.16 924.59 
L 466.97 917.56 
L 466.76 910.54 
L 466.54 903.52 
L 466.32 896.51 
L 466.09 889.5 
L 465.85 882.49 
L 465.6 875.49 
L 465.34 868.49 
L 465.08 861.5 
L 464.82 854.5 
L 464.54 847.52 
L 464.27 840.53 
L 463.98 833.55 
L 463.7 826.56 
L 463.41 819.59 
L 463.11 812.61 
L 462.82 805.64 
L 462.52 798.67 
L 462.21 791.7 
L 461.91 784.73 
L 461.6 777.76 
L 461.3 770.8 
L 460.99 763.83 
L 460.68 756.87 
L 460.37 749.91 
L 460.07 742.95 
L 459.76 735.99 
L 459.46 729.03 
L 459.15 722.07 
L 458.85 715.11 
L 458.55 708.15 
L 458.26 701.19 
L 457.97 694.23 
L 457.68 687.27 
L 457.4 680.31 
L 457.12 673.35 
L 456.85 666.39 
L 456.58 659.43 
L 456.32 652.47 
L 456.07 645.5 
L 455.82 638.54 
L 455.58 631.57 
L 455.34 624.6 
L 455.12 617.63 
L 454.9 610.65 
L 454.7 603.68 
L 454.5 596.7 
L 454.31 589.72 
L 454.13 582.74 
L 453.96 575.75 
L 453.81 568.76 
L 453.66 561.77 
L 453.53 554.77 
L 453.41 547.78 
L 453.3 540.77 
L 453.2 533.77 
L 453.12 526.76 
L 453.05 519.75 
L 453 512.73 
L 452.96 505.71 
L 452.94 498.68 
L 452.93 491.65 
L 452.94 484.61 
L 452.96 477.57 
L 453 470.53 
L 453.06 463.47 
L 453.14 456.42 
L 453.23 449.36 
L 453.35 442.29 
L 453.48 435.22 
L 453.63 428.14 
L 453.8 421.05 
L 453.99 413.96 
L 454.2 406.86 
z
" clip-path="url(#p20d32cc2dd)" style="fill: #cbcbcb"/>
   </g>
   <g id="patch_4">
    <path d="M 454.2 353.86 
L 453.99 360.96 
L 453.8 368.05 
L 453.63 375.14 
L 453.48 382.22 
L 453.35 389.29 
L 453.23 396.36 
L 453.14 403.42 
L 453.06 410.47 
L 453 417.53 
L 452.96 424.57 
L 452.94 431.61 
L 452.93 438.65 
L 452.94 445.68 
L 452.96 452.71 
L 453 459.73 
L 453.05 466.75 
L 453.12 473.76 
L 453.2 480.77 
L 453.3 487.77 
L 453.41 494.78 
L 453.53 501.77 
L 453.66 508.77 
L 453.81 515.76 
L 453.96 522.75 
L 454.13 529.74 
L 454.31 536.72 
L 454.5 543.7 
L 454.7 550.68 
L 454.9 557.65 
L 455.12 564.63 
L 455.34 571.6 
L 455.58 578.57 
L 455.82 585.54 
L 456.07 592.5 
L 456.32 599.47 
L 456.58 606.43 
L 456.85 613.39 
L 457.12 620.35 
L 457.4 627.31 
L 457.68 634.27 
L 457.97 641.23 
L 458.26 648.19 
L 458.55 655.15 
L 458.85 662.11 
L 459.15 669.07 
L 459.46 676.03 
L 459.76 682.99 
L 460.07 689.95 
L 460.37 696.91 
L 460.68 703.87 
L 460.99 710.83 
L 461.3 717.8 
L 461.6 724.76 
L 461.91 731.73 
L 462.21 738.7 
L 462.52 745.67 
L 462.82 752.64 
L 463.11 759.61 
L 463.41 766.59 
L 463.7 773.56 
L 463.98 780.55 
L 464.27 787.53 
L 464.54 794.52 
L 464.82 801.5 
L 465.08 808.5 
L 465.34 815.49 
L 465.6 822.49 
L 465.85 829.49 
L 466.09 836.5 
L 466.32 843.51 
L 466.54 850.52 
L 466.76 857.54 
L 466.97 864.56 
L 467.16 871.59 
L 467.35 878.62 
L 467.53 885.66 
L 467.69 892.7 
L 467.85 899.75 
L 468.01 906.8 
L 468.16 913.85 
L 468.31 920.91 
L 468.47 927.97 
L 468.64 935.03 
L 468.82 942.1 
L 469.02 949.16 
L 469.24 956.23 
L 469.48 963.29 
L 469.75 970.36 
L 470.04 977.43 
L 470.38 984.49 
L 470.75 991.55 
L 471.16 998.62 
L 471.62 1005.68 
L 472.12 1012.73 
L 472.68 1019.78 
L 473.29 1026.83 
L 473.96 1033.88 
L 474.69 1040.92 
L 475.49 1047.95 
L 476.36 1054.98 
L 477.31 1062 
L 478.32 1069.02 
L 479.42 1076.03 
L 480.61 1083.03 
L 481.88 1090.02 
L 483.24 1097 
L 484.7 1103.98 
L 486.25 1110.94 
L 487.91 1117.9 
L 489.67 1124.84 
L 491.54 1131.78 
L 493.52 1138.7 
L 495.62 1145.61 
L 497.85 1152.48 
L 500.22 1159.27 
L 502.75 1165.95 
L 505.45 1172.49 
L 508.35 1178.84 
L 511.45 1184.97 
L 514.77 1190.84 
L 518.33 1196.41 
L 522.14 1201.66 
L 526.22 1206.54 
L 530.58 1211.01 
L 535.25 1215.05 
L 540.22 1218.61 
L 545.53 1221.65 
L 551.18 1224.16 
L 557.13 1226.17 
L 563.36 1227.73 
L 569.84 1228.88 
L 576.52 1229.66 
L 583.38 1230.14 
L 590.39 1230.35 
L 597.5 1230.33 
L 604.68 1230.14 
L 611.91 1229.83 
L 619.15 1229.43 
L 626.36 1228.99 
L 633.57 1228.51 
L 640.75 1227.98 
L 647.91 1227.42 
L 655.06 1226.82 
L 662.19 1226.19 
L 669.31 1225.52 
L 676.41 1224.81 
L 683.49 1224.08 
L 690.56 1223.31 
L 697.62 1222.52 
L 704.66 1221.7 
L 711.7 1220.85 
L 718.71 1219.98 
L 725.72 1219.08 
L 732.72 1218.17 
L 739.71 1217.23 
L 746.68 1216.27 
L 753.65 1215.3 
L 760.61 1214.31 
L 767.56 1213.31 
L 774.5 1212.29 
L 781.44 1211.26 
L 788.37 1210.22 
L 795.29 1209.17 
L 802.21 1208.11 
L 809.12 1207.05 
L 816.03 1205.98 
L 822.94 1204.91 
L 829.84 1203.83 
L 836.74 1202.76 
L 843.64 1201.69 
L 850.53 1200.61 
L 857.43 1199.55 
L 864.32 1198.48 
L 871.22 1197.43 
L 878.11 1196.38 
L 885.01 1195.34 
L 891.91 1194.31 
L 898.81 1193.29 
L 905.71 1192.29 
L 912.62 1191.3 
L 919.53 1190.33 
L 926.44 1189.38 
L 933.36 1188.44 
L 940.29 1187.53 
L 947.22 1186.63 
L 954.16 1185.76 
L 961.1 1184.92 
L 968.06 1184.09 
L 975.01 1183.28 
L 981.97 1182.48 
L 988.94 1181.7 
L 995.91 1180.92 
L 1002.88 1180.16 
L 1009.85 1179.39 
L 1016.83 1178.63 
L 1023.8 1177.87 
L 1030.78 1177.1 
L 1037.75 1176.33 
L 1044.73 1175.55 
L 1051.7 1174.77 
L 1058.67 1173.96 
L 1065.64 1173.14 
L 1072.6 1172.31 
L 1079.56 1171.45 
L 1086.52 1170.57 
L 1093.46 1169.66 
L 1100.41 1168.73 
L 1107.34 1167.76 
L 1114.27 1166.76 
L 1121.19 1165.72 
L 1128.11 1164.65 
L 1135.01 1163.53 
L 1141.9 1162.37 
L 1148.79 1161.17 
L 1155.66 1159.91 
L 1162.52 1158.61 
L 1169.37 1157.25 
L 1176.2 1155.83 
L 1183.02 1154.36 
L 1189.83 1152.82 
L 1196.62 1151.22 
L 1203.4 1149.56 
L 1210.16 1147.82 
L 1216.9 1146.01 
L 1223.62 1144.13 
L 1230.33 1142.18 
L 1237.02 1140.14 
L 1243.69 1138.03 
L 1250.34 1135.84 
L 1256.97 1133.58 
L 1263.58 1131.25 
L 1270.17 1128.85 
L 1276.74 1126.39 
L 1283.29 1123.85 
L 1289.81 1121.25 
L 1296.32 1118.59 
L 1302.8 1115.87 
L 1309.26 1113.09 
L 1315.69 1110.25 
L 1322.1 1107.35 
L 1328.49 1104.4 
L 1334.85 1101.4 
L 1341.19 1098.35 
L 1347.51 1095.25 
L 1353.79 1092.1 
L 1360.06 1088.91 
L 1366.29 1085.67 
L 1372.5 1082.39 
L 1378.68 1079.07 
L 1384.84 1075.71 
L 1390.97 1072.31 
L 1397.07 1068.88 
L 1403.14 1065.41 
L 1409.18 1061.91 
L 1415.2 1058.38 
L 1421.19 1054.83 
L 1427.16 1051.24 
L 1433.11 1047.63 
L 1439.04 1044 
L 1444.96 1040.34 
L 1450.86 1036.66 
L 1456.75 1032.97 
L 1462.63 1029.25 
L 1468.49 1025.52 
L 1474.35 1021.78 
L 1480.21 1018.02 
L 1486.06 1014.25 
L 1491.91 1010.48 
L 1497.76 1006.69 
L 1503.61 1002.9 
L 1509.47 999.1 
L 1515.33 995.3 
L 1521.19 991.5 
L 1527.07 987.7 
L 1532.96 983.9 
L 1538.86 980.1 
L 1544.77 976.31 
L 1550.71 972.52 
L 1556.66 968.75 
L 1562.63 964.98 
L 1568.61 961.22 
L 1574.61 957.45 
L 1580.6 953.68 
L 1586.58 949.89 
L 1592.53 946.07 
L 1598.46 942.22 
L 1604.34 938.32 
L 1610.17 934.38 
L 1615.94 930.37 
L 1621.64 926.3 
L 1627.27 922.15 
L 1632.8 917.92 
L 1638.23 913.59 
L 1643.55 909.17 
L 1648.76 904.64 
L 1653.83 899.99 
L 1658.77 895.21 
L 1663.56 890.31 
L 1668.19 885.26 
L 1672.66 880.06 
L 1676.96 874.71 
L 1681.09 869.22 
L 1685.08 863.59 
L 1688.92 857.83 
L 1692.63 851.97 
L 1696.22 846 
L 1699.7 839.93 
L 1703.08 833.78 
L 1706.38 827.55 
L 1709.59 821.25 
L 1712.73 814.9 
L 1715.82 808.5 
L 1718.85 802.07 
L 1721.85 795.61 
L 1724.83 789.13 
L 1727.78 782.64 
L 1730.73 776.16 
L 1733.68 769.69 
L 1736.64 763.23 
L 1739.62 756.81 
L 1742.61 750.4 
L 1745.61 744.01 
L 1748.62 737.63 
L 1751.64 731.28 
L 1754.66 724.94 
L 1757.69 718.61 
L 1760.73 712.29 
L 1763.77 705.98 
L 1766.81 699.69 
L 1769.85 693.4 
L 1772.88 687.11 
L 1775.92 680.83 
L 1778.95 674.55 
L 1781.97 668.28 
L 1784.99 662 
L 1788 655.72 
L 1790.99 649.44 
L 1793.98 643.15 
L 1796.95 636.86 
L 1799.91 630.56 
L 1802.85 624.25 
L 1805.77 617.94 
L 1808.68 611.6 
L 1811.56 605.26 
L 1814.43 598.9 
L 1817.27 592.52 
L 1820.08 586.13 
L 1822.87 579.72 
L 1825.63 573.28 
L 1828.36 566.83 
L 1831.06 560.35 
L 1833.73 553.84 
L 1836.37 547.31 
L 1838.99 540.76 
L 1841.61 534.21 
L 1844.23 527.65 
L 1846.86 521.11 
L 1849.53 514.57 
L 1852.23 508.06 
L 1854.99 501.58 
L 1857.81 495.14 
L 1860.71 488.75 
L 1863.69 482.42 
L 1866.78 476.14 
L 1869.97 469.94 
L 1873.29 463.82 
L 1876.74 457.78 
L 1880.34 451.84 
L 1884.1 446.01 
L 1888.02 440.28 
L 1892.11 434.67 
L 1896.37 429.16 
L 1900.77 423.78 
L 1905.33 418.51 
L 1910.03 413.36 
L 1914.87 408.32 
L 1919.84 403.4 
L 1924.94 398.61 
L 1930.17 393.93 
L 1935.51 389.38 
L 1940.97 384.95 
L 1946.53 380.64 
L 1952.2 376.46 
L 1957.97 372.4 
L 1963.83 368.47 
L 1969.77 364.67 
L 1975.8 361 
L 1981.9 357.46 
L 1988.07 354.05 
L 1994.31 350.77 
L 2000.61 347.63 
L 2006.97 344.62 
L 2013.38 341.74 
L 2019.83 339 
L 2026.32 336.4 
L 2032.85 333.94 
L 2039.4 331.61 
L 2045.98 329.43 
L 2052.58 327.39 
L 2052.58 349.39 
L 2045.98 351.43 
L 2039.4 353.61 
L 2032.85 355.94 
L 2026.32 358.4 
L 2019.83 361 
L 2013.38 363.74 
L 2006.97 366.62 
L 2000.61 369.63 
L 1994.31 372.77 
L 1988.07 376.05 
L 1981.9 379.46 
L 1975.8 383 
L 1969.77 386.67 
L 1963.83 390.47 
L 1957.97 394.4 
L 1952.2 398.46 
L 1946.53 402.64 
L 1940.97 406.95 
L 1935.51 411.38 
L 1930.17 415.93 
L 1924.94 420.61 
L 1919.84 425.4 
L 1914.87 430.32 
L 1910.03 435.36 
L 1905.33 440.51 
L 1900.77 445.78 
L 1896.37 451.16 
L 1892.11 456.67 
L 1888.02 462.28 
L 1884.1 468.01 
L 1880.34 473.84 
L 1876.74 479.78 
L 1873.29 485.82 
L 1869.97 491.94 
L 1866.78 498.14 
L 1863.69 504.42 
L 1860.71 510.75 
L 1857.81 517.14 
L 1854.99 523.58 
L 1852.23 530.06 
L 1849.53 536.57 
L 1846.86 543.11 
L 1844.23 549.65 
L 1841.61 556.21 
L 1838.99 562.76 
L 1836.37 569.31 
L 1833.73 575.84 
L 1831.06 582.35 
L 1828.36 588.83 
L 1825.63 595.28 
L 1822.87 601.72 
L 1820.08 608.13 
L 1817.27 614.52 
L 1814.43 620.9 
L 1811.56 627.26 
L 1808.68 633.6 
L 1805.77 639.94 
L 1802.85 646.25 
L 1799.91 652.56 
L 1796.95 658.86 
L 1793.98 665.15 
L 1790.99 671.44 
L 1788 677.72 
L 1784.99 684 
L 1781.97 690.28 
L 1778.95 696.55 
L 1775.92 702.83 
L 1772.88 709.11 
L 1769.85 715.4 
L 1766.81 721.69 
L 1763.77 727.98 
L 1760.73 734.29 
L 1757.69 740.61 
L 1754.66 746.94 
L 1751.64 753.28 
L 1748.62 759.63 
L 1745.61 766.01 
L 1742.61 772.4 
L 1739.62 778.81 
L 1736.64 785.23 
L 1733.68 791.69 
L 1730.73 798.16 
L 1727.78 804.64 
L 1724.83 811.13 
L 1721.85 817.61 
L 1718.85 824.07 
L 1715.82 830.5 
L 1712.73 836.9 
L 1709.59 843.25 
L 1706.38 849.55 
L 1703.08 855.78 
L 1699.7 861.93 
L 1696.22 868 
L 1692.63 873.97 
L 1688.92 879.83 
L 1685.08 885.59 
L 1681.09 891.22 
L 1676.96 896.71 
L 1672.66 902.06 
L 1668.19 907.26 
L 1663.56 912.31 
L 1658.77 917.21 
L 1653.83 921.99 
L 1648.76 926.64 
L 1643.55 931.17 
L 1638.23 935.59 
L 1632.8 939.92 
L 1627.27 944.15 
L 1621.64 948.3 
L 1615.94 952.37 
L 1610.17 956.38 
L 1604.34 960.32 
L 1598.46 964.22 
L 1592.53 968.07 
L 1586.58 971.89 
L 1580.6 975.68 
L 1574.61 979.45 
L 1568.61 983.22 
L 1562.63 986.98 
L 1556.66 990.75 
L 1550.71 994.52 
L 1544.77 998.31 
L 1538.86 1002.1 
L 1532.96 1005.9 
L 1527.07 1009.7 
L 1521.19 1013.5 
L 1515.33 1017.3 
L 1509.47 1021.1 
L 1503.61 1024.9 
L 1497.76 1028.69 
L 1491.91 1032.48 
L 1486.06 1036.25 
L 1480.21 1040.02 
L 1474.35 1043.78 
L 1468.49 1047.52 
L 1462.63 1051.25 
L 1456.75 1054.97 
L 1450.86 1058.66 
L 1444.96 1062.34 
L 1439.04 1066 
L 1433.11 1069.63 
L 1427.16 1073.24 
L 1421.19 1076.83 
L 1415.2 1080.38 
L 1409.18 1083.91 
L 1403.14 1087.41 
L 1397.07 1090.88 
L 1390.97 1094.31 
L 1384.84 1097.71 
L 1378.68 1101.07 
L 1372.5 1104.39 
L 1366.29 1107.67 
L 1360.06 1110.91 
L 1353.79 1114.1 
L 1347.51 1117.25 
L 1341.19 1120.35 
L 1334.85 1123.4 
L 1328.49 1126.4 
L 1322.1 1129.35 
L 1315.69 1132.25 
L 1309.26 1135.09 
L 1302.8 1137.87 
L 1296.32 1140.59 
L 1289.81 1143.25 
L 1283.29 1145.85 
L 1276.74 1148.39 
L 1270.17 1150.85 
L 1263.58 1153.25 
L 1256.97 1155.58 
L 1250.34 1157.84 
L 1243.69 1160.03 
L 1237.02 1162.14 
L 1230.33 1164.18 
L 1223.62 1166.13 
L 1216.9 1168.01 
L 1210.16 1169.82 
L 1203.4 1171.56 
L 1196.62 1173.22 
L 1189.83 1174.82 
L 1183.02 1176.36 
L 1176.2 1177.83 
L 1169.37 1179.25 
L 1162.52 1180.61 
L 1155.66 1181.91 
L 1148.79 1183.17 
L 1141.9 1184.37 
L 1135.01 1185.53 
L 1128.11 1186.65 
L 1121.19 1187.72 
L 1114.27 1188.76 
L 1107.34 1189.76 
L 1100.41 1190.73 
L 1093.46 1191.66 
L 1086.52 1192.57 
L 1079.56 1193.45 
L 1072.6 1194.31 
L 1065.64 1195.14 
L 1058.67 1195.96 
L 1051.7 1196.77 
L 1044.73 1197.55 
L 1037.75 1198.33 
L 1030.78 1199.1 
L 1023.8 1199.87 
L 1016.83 1200.63 
L 1009.85 1201.39 
L 1002.88 1202.16 
L 995.91 1202.92 
L 988.94 1203.7 
L 981.97 1204.48 
L 975.01 1205.28 
L 968.06 1206.09 
L 961.1 1206.92 
L 954.16 1207.76 
L 947.22 1208.63 
L 940.29 1209.53 
L 933.36 1210.44 
L 926.44 1211.38 
L 919.53 1212.33 
L 912.62 1213.3 
L 905.71 1214.29 
L 898.81 1215.29 
L 891.91 1216.31 
L 885.01 1217.34 
L 878.11 1218.38 
L 871.22 1219.43 
L 864.32 1220.48 
L 857.43 1221.55 
L 850.53 1222.61 
L 843.64 1223.69 
L 836.74 1224.76 
L 829.84 1225.83 
L 822.94 1226.91 
L 816.03 1227.98 
L 809.12 1229.05 
L 802.21 1230.11 
L 795.29 1231.17 
L 788.37 1232.22 
L 781.44 1233.26 
L 774.5 1234.29 
L 767.56 1235.31 
L 760.61 1236.31 
L 753.65 1237.3 
L 746.68 1238.27 
L 739.71 1239.23 
L 732.72 1240.17 
L 725.72 1241.08 
L 718.71 1241.98 
L 711.7 1242.85 
L 704.66 1243.7 
L 697.62 1244.52 
L 690.56 1245.31 
L 683.49 1246.08 
L 676.41 1246.81 
L 669.31 1247.52 
L 662.19 1248.19 
L 655.06 1248.82 
L 647.91 1249.42 
L 640.75 1249.98 
L 633.57 1250.51 
L 626.36 1250.99 
L 619.15 1251.43 
L 611.91 1251.83 
L 604.68 1252.14 
L 597.5 1252.33 
L 590.39 1252.35 
L 583.38 1252.14 
L 576.52 1251.66 
L 569.84 1250.88 
L 563.36 1249.73 
L 557.13 1248.17 
L 551.18 1246.16 
L 545.53 1243.65 
L 540.22 1240.61 
L 535.25 1237.05 
L 530.58 1233.01 
L 526.22 1228.54 
L 522.14 1223.66 
L 518.33 1218.41 
L 514.77 1212.84 
L 511.45 1206.97 
L 508.35 1200.84 
L 505.45 1194.49 
L 502.75 1187.95 
L 500.22 1181.27 
L 497.85 1174.48 
L 495.62 1167.61 
L 493.52 1160.7 
L 491.54 1153.78 
L 489.67 1146.84 
L 487.91 1139.9 
L 486.25 1132.94 
L 484.7 1125.98 
L 483.24 1119 
L 481.88 1112.02 
L 480.61 1105.03 
L 479.42 1098.03 
L 478.32 1091.02 
L 477.31 1084 
L 476.36 1076.98 
L 475.49 1069.95 
L 474.69 1062.92 
L 473.96 1055.88 
L 473.29 1048.83 
L 472.68 1041.78 
L 472.12 1034.73 
L 471.62 1027.68 
L 471.16 1020.62 
L 470.75 1013.55 
L 470.38 1006.49 
L 470.04 999.43 
L 469.75 992.36 
L 469.48 985.29 
L 469.24 978.23 
L 469.02 971.16 
L 468.82 964.1 
L 468.64 957.03 
L 468.47 949.97 
L 468.31 942.91 
L 468.16 935.85 
L 468.01 928.8 
L 467.85 921.75 
L 467.69 914.7 
L 467.53 907.66 
L 467.35 900.62 
L 467.16 893.59 
L 466.97 886.56 
L 466.76 879.54 
L 466.54 872.52 
L 466.32 865.51 
L 466.09 858.5 
L 465.85 851.49 
L 465.6 844.49 
L 465.34 837.49 
L 465.08 830.5 
L 464.82 823.5 
L 464.54 816.52 
L 464.27 809.53 
L 463.98 802.55 
L 463.7 795.56 
L 463.41 788.59 
L 463.11 781.61 
L 462.82 774.64 
L 462.52 767.67 
L 462.21 760.7 
L 461.91 753.73 
L 461.6 746.76 
L 461.3 739.8 
L 460.99 732.83 
L 460.68 725.87 
L 460.37 718.91 
L 460.07 711.95 
L 459.76 704.99 
L 459.46 698.03 
L 459.15 691.07 
L 458.85 684.11 
L 458.55 677.15 
L 458.26 670.19 
L 457.97 663.23 
L 457.68 656.27 
L 457.4 649.31 
L 457.12 642.35 
L 456.85 635.39 
L 456.58 628.43 
L 456.32 621.47 
L 456.07 614.5 
L 455.82 607.54 
L 455.58 600.57 
L 455.34 593.6 
L 455.12 586.63 
L 454.9 579.65 
L 454.7 572.68 
L 454.5 565.7 
L 454.31 558.72 
L 454.13 551.74 
L 453.96 544.75 
L 453.81 537.76 
L 453.66 530.77 
L 453.53 523.77 
L 453.41 516.78 
L 453.3 509.77 
L 453.2 502.77 
L 453.12 495.76 
L 453.05 488.75 
L 453 481.73 
L 452.96 474.71 
L 452.94 467.68 
L 452.93 460.65 
L 452.94 453.61 
L 452.96 446.57 
L 453 439.53 
L 453.06 432.47 
L 453.14 425.42 
L 453.23 418.36 
L 453.35 411.29 
L 453.48 404.22 
L 453.63 397.14 
L 453.8 390.05 
L 453.99 382.96 
L 454.2 375.86 
z
" clip-path="url(#p20d32cc2dd)" style="fill: #4f4f4f"/>
   </g>
   <g id="line2d_1">
    <path d="M 454.2 364.86 
L 453.63 386.14 
L 453.23 407.36 
L 452.96 435.57 
L 452.96 463.71 
L 453.2 491.77 
L 453.66 519.77 
L 454.5 554.7 
L 455.58 589.57 
L 457.12 631.35 
L 459.46 687.03 
L 464.54 805.52 
L 466.09 847.5 
L 467.16 882.59 
L 468.01 917.8 
L 469.02 960.16 
L 469.75 981.36 
L 470.75 1002.55 
L 471.62 1016.68 
L 472.68 1030.78 
L 473.96 1044.88 
L 475.49 1058.95 
L 477.31 1073 
L 479.42 1087.03 
L 481.88 1101.02 
L 484.7 1114.98 
L 487.91 1128.9 
L 491.54 1142.78 
L 493.52 1149.7 
L 495.62 1156.61 
L 497.85 1163.48 
L 500.22 1170.27 
L 502.75 1176.95 
L 505.45 1183.49 
L 508.35 1189.84 
L 511.45 1195.97 
L 514.77 1201.84 
L 518.33 1207.41 
L 522.14 1212.66 
L 526.22 1217.54 
L 530.58 1222.01 
L 535.25 1226.05 
L 540.22 1229.61 
L 545.53 1232.65 
L 551.18 1235.16 
L 557.13 1237.17 
L 563.36 1238.73 
L 569.84 1239.88 
L 576.52 1240.66 
L 583.38 1241.14 
L 590.39 1241.35 
L 597.5 1241.33 
L 604.68 1241.14 
L 619.15 1240.43 
L 633.57 1239.51 
L 647.91 1238.42 
L 669.31 1236.52 
L 690.56 1234.31 
L 711.7 1231.85 
L 732.72 1229.17 
L 753.65 1226.3 
L 781.44 1222.26 
L 816.03 1216.98 
L 891.91 1205.31 
L 919.53 1201.33 
L 940.29 1198.53 
L 961.1 1195.92 
L 988.94 1192.7 
L 1072.6 1183.31 
L 1093.46 1180.66 
L 1114.27 1177.76 
L 1128.11 1175.65 
L 1141.9 1173.37 
L 1155.66 1170.91 
L 1169.37 1168.25 
L 1183.02 1165.36 
L 1196.62 1162.22 
L 1210.16 1158.82 
L 1223.62 1155.13 
L 1237.02 1151.14 
L 1250.34 1146.84 
L 1263.58 1142.25 
L 1276.74 1137.39 
L 1289.81 1132.25 
L 1302.8 1126.87 
L 1315.69 1121.25 
L 1328.49 1115.4 
L 1341.19 1109.35 
L 1353.79 1103.1 
L 1366.29 1096.67 
L 1378.68 1090.07 
L 1390.97 1083.31 
L 1403.14 1076.41 
L 1415.2 1069.38 
L 1433.11 1058.63 
L 1450.86 1047.66 
L 1468.49 1036.52 
L 1491.91 1021.48 
L 1550.71 983.52 
L 1574.61 968.45 
L 1592.53 957.07 
L 1604.34 949.32 
L 1615.94 941.37 
L 1627.27 933.15 
L 1632.8 928.92 
L 1638.23 924.59 
L 1643.55 920.17 
L 1648.76 915.64 
L 1653.83 910.99 
L 1658.77 906.21 
L 1663.56 901.31 
L 1668.19 896.26 
L 1672.66 891.06 
L 1676.96 885.71 
L 1681.09 880.22 
L 1685.08 874.59 
L 1688.92 868.83 
L 1692.63 862.97 
L 1696.22 857 
L 1699.7 850.93 
L 1703.08 844.78 
L 1709.59 832.25 
L 1715.82 819.5 
L 1721.85 806.61 
L 1745.61 755.01 
L 1757.69 729.61 
L 1799.91 641.56 
L 1808.68 622.6 
L 1817.27 603.52 
L 1825.63 584.28 
L 1831.06 571.35 
L 1838.99 551.76 
L 1849.53 525.57 
L 1854.99 512.58 
L 1860.71 499.75 
L 1863.69 493.42 
L 1866.78 487.14 
L 1869.97 480.94 
L 1873.29 474.82 
L 1876.74 468.78 
L 1880.34 462.84 
L 1884.1 457.01 
L 1888.02 451.28 
L 1892.11 445.67 
L 1896.37 440.16 
L 1900.77 434.78 
L 1905.33 429.51 
L 1910.03 424.36 
L 1914.87 419.32 
L 1919.84 414.4 
L 1924.94 409.61 
L 1930.17 404.93 
L 1935.51 400.38 
L 1940.97 395.95 
L 1946.53 391.64 
L 1952.2 387.46 
L 1957.97 383.4 
L 1963.83 379.47 
L 1969.77 375.67 
L 1975.8 372 
L 1981.9 368.46 
L 1988.07 365.05 
L 1994.31 361.77 
L 2000.61 358.63 
L 2006.97 355.62 
L 2013.38 352.74 
L 2019.83 350 
L 2026.32 347.4 
L 2032.85 344.94 
L 2039.4 342.61 
L 2045.98 340.43 
L 2052.58 338.39 
L 2052.58 338.39 
" clip-path="url(#p20d32cc2dd)" style="fill: none; stroke: #4f4f4f; stroke-width: 18"/>
   </g>
   <g id="patch_5">
    <path d="M 454.02 276.48 
L 453.86 283.07 
L 453.72 289.66 
L 453.6 296.26 
L 453.48 302.85 
L 453.38 309.44 
L 453.29 316.03 
L 453.22 322.62 
L 453.15 329.2 
L 453.1 335.79 
L 453.07 342.38 
L 453.04 348.97 
L 453.02 355.55 
L 453.02 362.14 
L 453.02 368.72 
L 453.04 375.3 
L 453.06 381.89 
L 453.1 388.47 
L 453.14 395.05 
L 453.2 401.63 
L 453.26 408.21 
L 453.33 414.79 
L 453.41 421.37 
L 453.5 427.95 
L 453.59 434.53 
L 453.69 441.11 
L 453.8 447.68 
L 453.91 454.26 
L 454.03 460.84 
L 454.16 467.41 
L 454.29 473.99 
L 454.43 480.56 
L 454.57 487.14 
L 454.72 493.71 
L 454.87 500.29 
L 455.03 506.86 
L 455.19 513.44 
L 455.35 520.01 
L 455.52 526.58 
L 455.69 533.16 
L 455.86 539.73 
L 456.03 546.3 
L 456.21 552.87 
L 456.39 559.45 
L 456.57 566.02 
L 456.74 572.59 
L 456.93 579.16 
L 457.11 585.73 
L 457.29 592.3 
L 457.47 598.88 
L 457.65 605.45 
L 457.83 612.02 
L 458 618.59 
L 458.18 625.16 
L 458.36 631.73 
L 458.53 638.3 
L 458.7 644.87 
L 458.87 651.44 
L 459.03 658.02 
L 459.19 664.59 
L 459.35 671.16 
L 459.5 677.73 
L 459.65 684.3 
L 459.8 690.87 
L 459.94 697.45 
L 460.07 704.02 
L 460.2 710.59 
L 460.32 717.16 
L 460.44 723.74 
L 460.55 730.31 
L 460.66 736.88 
L 460.75 743.45 
L 460.84 750.03 
L 460.92 756.6 
L 461 763.18 
L 461.06 769.75 
L 461.12 776.33 
L 461.17 782.9 
L 461.21 789.48 
L 461.24 796.05 
L 461.26 802.63 
L 461.27 809.21 
L 461.27 815.78 
L 461.26 822.36 
L 461.23 828.94 
L 461.2 835.52 
L 461.15 842.1 
L 461.1 848.68 
L 461.03 855.26 
L 460.94 861.84 
L 460.85 868.42 
L 460.74 875 
L 460.64 881.59 
L 460.54 888.17 
L 460.45 894.76 
L 460.37 901.34 
L 460.32 907.93 
L 460.3 914.52 
L 460.32 921.11 
L 460.37 927.71 
L 460.48 934.3 
L 460.64 940.9 
L 460.87 947.5 
L 461.16 954.1 
L 461.52 960.71 
L 461.97 967.32 
L 462.5 973.93 
L 463.13 980.54 
L 463.86 987.16 
L 464.69 993.78 
L 465.64 1000.41 
L 466.7 1007.04 
L 467.89 1013.67 
L 469.21 1020.31 
L 470.67 1026.95 
L 472.28 1033.6 
L 474.03 1040.25 
L 475.96 1046.86 
L 478.07 1053.38 
L 480.4 1059.77 
L 482.95 1065.98 
L 485.75 1071.95 
L 488.83 1077.63 
L 492.19 1082.98 
L 495.87 1087.94 
L 499.88 1092.47 
L 504.24 1096.51 
L 508.97 1100.01 
L 514.06 1102.96 
L 519.46 1105.36 
L 525.12 1107.23 
L 530.99 1108.56 
L 537.03 1109.37 
L 543.17 1109.68 
L 549.38 1109.48 
L 555.59 1108.79 
L 561.78 1107.61 
L 567.9 1105.98 
L 573.97 1103.93 
L 579.98 1101.5 
L 585.95 1098.74 
L 591.89 1095.68 
L 597.79 1092.37 
L 603.66 1088.85 
L 609.51 1085.15 
L 615.34 1081.32 
L 621.15 1077.4 
L 626.97 1073.43 
L 632.78 1069.45 
L 638.59 1065.51 
L 644.41 1061.63 
L 650.25 1057.87 
L 656.11 1054.27 
L 662 1050.86 
L 667.91 1047.69 
L 673.86 1044.79 
L 679.85 1042.14 
L 685.86 1039.69 
L 691.9 1037.42 
L 697.95 1035.28 
L 704.02 1033.23 
L 710.1 1031.23 
L 716.18 1029.24 
L 722.26 1027.23 
L 728.33 1025.15 
L 734.4 1022.98 
L 740.45 1020.74 
L 746.5 1018.42 
L 752.53 1016.02 
L 758.55 1013.55 
L 764.56 1011 
L 770.56 1008.4 
L 776.54 1005.72 
L 782.51 1002.98 
L 788.46 1000.19 
L 794.39 997.33 
L 800.31 994.43 
L 806.21 991.47 
L 812.09 988.46 
L 817.95 985.4 
L 823.79 982.31 
L 829.61 979.17 
L 835.41 975.99 
L 841.18 972.78 
L 846.94 969.53 
L 852.67 966.25 
L 858.37 962.94 
L 864.06 959.61 
L 869.73 956.24 
L 875.37 952.84 
L 881 949.42 
L 886.61 945.98 
L 892.21 942.5 
L 897.79 939.01 
L 903.35 935.5 
L 908.9 931.96 
L 914.43 928.4 
L 919.96 924.83 
L 925.47 921.24 
L 930.97 917.63 
L 936.45 914 
L 941.93 910.37 
L 947.4 906.72 
L 952.86 903.06 
L 958.32 899.38 
L 963.76 895.7 
L 969.21 892.01 
L 974.64 888.31 
L 980.07 884.61 
L 985.5 880.9 
L 990.93 877.19 
L 996.35 873.47 
L 1001.78 869.76 
L 1007.2 866.04 
L 1012.62 862.32 
L 1018.05 858.61 
L 1023.47 854.9 
L 1028.9 851.19 
L 1034.34 847.49 
L 1039.77 843.79 
L 1045.21 840.1 
L 1050.66 836.42 
L 1056.12 832.75 
L 1061.58 829.09 
L 1067.05 825.45 
L 1072.53 821.81 
L 1078.02 818.19 
L 1083.52 814.58 
L 1089.02 810.98 
L 1094.53 807.4 
L 1100.05 803.83 
L 1105.58 800.27 
L 1111.12 796.72 
L 1116.67 793.19 
L 1122.23 789.68 
L 1127.79 786.17 
L 1133.37 782.69 
L 1138.95 779.22 
L 1144.55 775.76 
L 1150.15 772.32 
L 1155.76 768.89 
L 1161.38 765.48 
L 1167.01 762.09 
L 1172.65 758.71 
L 1178.3 755.35 
L 1183.96 752 
L 1189.63 748.67 
L 1195.31 745.36 
L 1201 742.07 
L 1206.7 738.8 
L 1212.4 735.54 
L 1218.12 732.3 
L 1223.85 729.08 
L 1229.59 725.88 
L 1235.34 722.7 
L 1241.1 719.53 
L 1246.87 716.39 
L 1252.65 713.26 
L 1258.44 710.16 
L 1264.24 707.07 
L 1270.06 704.01 
L 1275.88 700.96 
L 1281.71 697.94 
L 1287.56 694.94 
L 1293.41 691.96 
L 1299.28 689 
L 1305.16 686.06 
L 1311.05 683.14 
L 1316.95 680.25 
L 1322.86 677.38 
L 1328.78 674.53 
L 1334.72 671.71 
L 1340.67 668.9 
L 1346.62 666.12 
L 1352.59 663.37 
L 1358.57 660.63 
L 1364.56 657.91 
L 1370.55 655.21 
L 1376.55 652.52 
L 1382.56 649.84 
L 1388.57 647.17 
L 1394.58 644.51 
L 1400.59 641.85 
L 1406.61 639.2 
L 1412.62 636.55 
L 1418.64 633.89 
L 1424.65 631.24 
L 1430.65 628.58 
L 1436.65 625.91 
L 1442.65 623.24 
L 1448.63 620.55 
L 1454.61 617.85 
L 1460.58 615.13 
L 1466.54 612.4 
L 1472.49 609.65 
L 1478.42 606.88 
L 1484.34 604.08 
L 1490.24 601.26 
L 1496.13 598.41 
L 1502 595.53 
L 1507.85 592.62 
L 1513.68 589.68 
L 1519.49 586.7 
L 1525.28 583.68 
L 1531.05 580.62 
L 1536.79 577.52 
L 1542.5 574.38 
L 1548.19 571.19 
L 1553.85 567.95 
L 1559.48 564.66 
L 1565.09 561.32 
L 1570.66 557.93 
L 1576.2 554.49 
L 1581.71 550.99 
L 1587.2 547.45 
L 1592.66 543.87 
L 1598.1 540.23 
L 1603.51 536.56 
L 1608.89 532.85 
L 1614.26 529.09 
L 1619.6 525.3 
L 1624.92 521.47 
L 1630.22 517.61 
L 1635.5 513.71 
L 1640.77 509.79 
L 1646.02 505.83 
L 1651.25 501.85 
L 1656.46 497.84 
L 1661.67 493.8 
L 1666.85 489.74 
L 1672.03 485.67 
L 1677.2 481.57 
L 1682.35 477.45 
L 1687.5 473.32 
L 1692.63 469.17 
L 1697.76 465.01 
L 1702.88 460.84 
L 1708 456.66 
L 1713.11 452.47 
L 1718.22 448.27 
L 1723.32 444.07 
L 1728.43 439.87 
L 1733.53 435.66 
L 1738.63 431.46 
L 1743.73 427.25 
L 1748.84 423.05 
L 1753.94 418.86 
L 1759.06 414.67 
L 1764.17 410.49 
L 1769.29 406.32 
L 1774.42 402.16 
L 1779.55 398.02 
L 1784.7 393.89 
L 1789.85 389.78 
L 1795.01 385.68 
L 1800.19 381.61 
L 1805.37 377.56 
L 1810.57 373.53 
L 1815.79 369.52 
L 1821.02 365.54 
L 1826.26 361.59 
L 1831.52 357.67 
L 1836.8 353.79 
L 1842.1 349.93 
L 1847.42 346.11 
L 1852.75 342.33 
L 1858.11 338.58 
L 1863.5 334.88 
L 1868.9 331.21 
L 1874.33 327.59 
L 1879.79 324.01 
L 1885.27 320.48 
L 1890.78 317 
L 1896.31 313.57 
L 1901.88 310.19 
L 1907.48 306.86 
L 1913.1 303.59 
L 1918.76 300.37 
L 1924.46 297.21 
L 1930.18 294.11 
L 1935.94 291.07 
L 1941.74 288.1 
L 1947.57 285.19 
L 1953.44 282.34 
L 1959.35 279.57 
L 1965.3 276.86 
L 1971.29 274.22 
L 1977.32 271.66 
L 1983.39 269.17 
L 1989.51 266.76 
L 1995.67 264.42 
L 2001.87 262.17 
L 2008.13 259.99 
L 2014.42 257.9 
L 2020.77 255.89 
L 2027.17 253.97 
L 2033.61 252.14 
L 2040.11 250.39 
L 2046.65 248.74 
L 2053.26 247.18 
L 2053.26 279.18 
L 2046.65 280.74 
L 2040.11 282.39 
L 2033.61 284.14 
L 2027.17 285.97 
L 2020.77 287.89 
L 2014.42 289.9 
L 2008.13 291.99 
L 2001.87 294.17 
L 1995.67 296.42 
L 1989.51 298.76 
L 1983.39 301.17 
L 1977.32 303.66 
L 1971.29 306.22 
L 1965.3 308.86 
L 1959.35 311.57 
L 1953.44 314.34 
L 1947.57 317.19 
L 1941.74 320.1 
L 1935.94 323.07 
L 1930.18 326.11 
L 1924.46 329.21 
L 1918.76 332.37 
L 1913.1 335.59 
L 1907.48 338.86 
L 1901.88 342.19 
L 1896.31 345.57 
L 1890.78 349 
L 1885.27 352.48 
L 1879.79 356.01 
L 1874.33 359.59 
L 1868.9 363.21 
L 1863.5 366.88 
L 1858.11 370.58 
L 1852.75 374.33 
L 1847.42 378.11 
L 1842.1 381.93 
L 1836.8 385.79 
L 1831.52 389.67 
L 1826.26 393.59 
L 1821.02 397.54 
L 1815.79 401.52 
L 1810.57 405.53 
L 1805.37 409.56 
L 1800.19 413.61 
L 1795.01 417.68 
L 1789.85 421.78 
L 1784.7 425.89 
L 1779.55 430.02 
L 1774.42 434.16 
L 1769.29 438.32 
L 1764.17 442.49 
L 1759.06 446.67 
L 1753.94 450.86 
L 1748.84 455.05 
L 1743.73 459.25 
L 1738.63 463.46 
L 1733.53 467.66 
L 1728.43 471.87 
L 1723.32 476.07 
L 1718.22 480.27 
L 1713.11 484.47 
L 1708 488.66 
L 1702.88 492.84 
L 1697.76 497.01 
L 1692.63 501.17 
L 1687.5 505.32 
L 1682.35 509.45 
L 1677.2 513.57 
L 1672.03 517.67 
L 1666.85 521.74 
L 1661.67 525.8 
L 1656.46 529.84 
L 1651.25 533.85 
L 1646.02 537.83 
L 1640.77 541.79 
L 1635.5 545.71 
L 1630.22 549.61 
L 1624.92 553.47 
L 1619.6 557.3 
L 1614.26 561.09 
L 1608.89 564.85 
L 1603.51 568.56 
L 1598.1 572.23 
L 1592.66 575.87 
L 1587.2 579.45 
L 1581.71 582.99 
L 1576.2 586.49 
L 1570.66 589.93 
L 1565.09 593.32 
L 1559.48 596.66 
L 1553.85 599.95 
L 1548.19 603.19 
L 1542.5 606.38 
L 1536.79 609.52 
L 1531.05 612.62 
L 1525.28 615.68 
L 1519.49 618.7 
L 1513.68 621.68 
L 1507.85 624.62 
L 1502 627.53 
L 1496.13 630.41 
L 1490.24 633.26 
L 1484.34 636.08 
L 1478.42 638.88 
L 1472.49 641.65 
L 1466.54 644.4 
L 1460.58 647.13 
L 1454.61 649.85 
L 1448.63 652.55 
L 1442.65 655.24 
L 1436.65 657.91 
L 1430.65 660.58 
L 1424.65 663.24 
L 1418.64 665.89 
L 1412.62 668.55 
L 1406.61 671.2 
L 1400.59 673.85 
L 1394.58 676.51 
L 1388.57 679.17 
L 1382.56 681.84 
L 1376.55 684.52 
L 1370.55 687.21 
L 1364.56 689.91 
L 1358.57 692.63 
L 1352.59 695.37 
L 1346.62 698.12 
L 1340.67 700.9 
L 1334.72 703.71 
L 1328.78 706.53 
L 1322.86 709.38 
L 1316.95 712.25 
L 1311.05 715.14 
L 1305.16 718.06 
L 1299.28 721 
L 1293.41 723.96 
L 1287.56 726.94 
L 1281.71 729.94 
L 1275.88 732.96 
L 1270.06 736.01 
L 1264.24 739.07 
L 1258.44 742.16 
L 1252.65 745.26 
L 1246.87 748.39 
L 1241.1 751.53 
L 1235.34 754.7 
L 1229.59 757.88 
L 1223.85 761.08 
L 1218.12 764.3 
L 1212.4 767.54 
L 1206.7 770.8 
L 1201 774.07 
L 1195.31 777.36 
L 1189.63 780.67 
L 1183.96 784 
L 1178.3 787.35 
L 1172.65 790.71 
L 1167.01 794.09 
L 1161.38 797.48 
L 1155.76 800.89 
L 1150.15 804.32 
L 1144.55 807.76 
L 1138.95 811.22 
L 1133.37 814.69 
L 1127.79 818.17 
L 1122.23 821.68 
L 1116.67 825.19 
L 1111.12 828.72 
L 1105.58 832.27 
L 1100.05 835.83 
L 1094.53 839.4 
L 1089.02 842.98 
L 1083.52 846.58 
L 1078.02 850.19 
L 1072.53 853.81 
L 1067.05 857.45 
L 1061.58 861.09 
L 1056.12 864.75 
L 1050.66 868.42 
L 1045.21 872.1 
L 1039.77 875.79 
L 1034.34 879.49 
L 1028.9 883.19 
L 1023.47 886.9 
L 1018.05 890.61 
L 1012.62 894.32 
L 1007.2 898.04 
L 1001.78 901.76 
L 996.35 905.47 
L 990.93 909.19 
L 985.5 912.9 
L 980.07 916.61 
L 974.64 920.31 
L 969.21 924.01 
L 963.76 927.7 
L 958.32 931.38 
L 952.86 935.06 
L 947.4 938.72 
L 941.93 942.37 
L 936.45 946 
L 930.97 949.63 
L 925.47 953.24 
L 919.96 956.83 
L 914.43 960.4 
L 908.9 963.96 
L 903.35 967.5 
L 897.79 971.01 
L 892.21 974.5 
L 886.61 977.98 
L 881 981.42 
L 875.37 984.84 
L 869.73 988.24 
L 864.06 991.61 
L 858.37 994.94 
L 852.67 998.25 
L 846.94 1001.53 
L 841.18 1004.78 
L 835.41 1007.99 
L 829.61 1011.17 
L 823.79 1014.31 
L 817.95 1017.4 
L 812.09 1020.46 
L 806.21 1023.47 
L 800.31 1026.43 
L 794.39 1029.33 
L 788.46 1032.19 
L 782.51 1034.98 
L 776.54 1037.72 
L 770.56 1040.4 
L 764.56 1043 
L 758.55 1045.55 
L 752.53 1048.02 
L 746.5 1050.42 
L 740.45 1052.74 
L 734.4 1054.98 
L 728.33 1057.15 
L 722.26 1059.23 
L 716.18 1061.24 
L 710.1 1063.23 
L 704.02 1065.23 
L 697.95 1067.28 
L 691.9 1069.42 
L 685.86 1071.69 
L 679.85 1074.14 
L 673.86 1076.79 
L 667.91 1079.69 
L 662 1082.86 
L 656.11 1086.27 
L 650.25 1089.87 
L 644.41 1093.63 
L 638.59 1097.51 
L 632.78 1101.45 
L 626.97 1105.43 
L 621.15 1109.4 
L 615.34 1113.32 
L 609.51 1117.15 
L 603.66 1120.85 
L 597.79 1124.37 
L 591.89 1127.68 
L 585.95 1130.74 
L 579.98 1133.5 
L 573.97 1135.93 
L 567.9 1137.98 
L 561.78 1139.61 
L 555.59 1140.79 
L 549.38 1141.48 
L 543.17 1141.68 
L 537.03 1141.37 
L 530.99 1140.56 
L 525.12 1139.23 
L 519.46 1137.36 
L 514.06 1134.96 
L 508.97 1132.01 
L 504.24 1128.51 
L 499.88 1124.47 
L 495.87 1119.94 
L 492.19 1114.98 
L 488.83 1109.63 
L 485.75 1103.95 
L 482.95 1097.98 
L 480.4 1091.77 
L 478.07 1085.38 
L 475.96 1078.86 
L 474.03 1072.25 
L 472.28 1065.6 
L 470.67 1058.95 
L 469.21 1052.31 
L 467.89 1045.67 
L 466.7 1039.04 
L 465.64 1032.41 
L 464.69 1025.78 
L 463.86 1019.16 
L 463.13 1012.54 
L 462.5 1005.93 
L 461.97 999.32 
L 461.52 992.71 
L 461.16 986.1 
L 460.87 979.5 
L 460.64 972.9 
L 460.48 966.3 
L 460.37 959.71 
L 460.32 953.11 
L 460.3 946.52 
L 460.32 939.93 
L 460.37 933.34 
L 460.45 926.76 
L 460.54 920.17 
L 460.64 913.59 
L 460.74 907 
L 460.85 900.42 
L 460.94 893.84 
L 461.03 887.26 
L 461.1 880.68 
L 461.15 874.1 
L 461.2 867.52 
L 461.23 860.94 
L 461.26 854.36 
L 461.27 847.78 
L 461.27 841.21 
L 461.26 834.63 
L 461.24 828.05 
L 461.21 821.48 
L 461.17 814.9 
L 461.12 808.33 
L 461.06 801.75 
L 461 795.18 
L 460.92 788.6 
L 460.84 782.03 
L 460.75 775.45 
L 460.66 768.88 
L 460.55 762.31 
L 460.44 755.74 
L 460.32 749.16 
L 460.2 742.59 
L 460.07 736.02 
L 459.94 729.45 
L 459.8 722.87 
L 459.65 716.3 
L 459.5 709.73 
L 459.35 703.16 
L 459.19 696.59 
L 459.03 690.02 
L 458.87 683.44 
L 458.7 676.87 
L 458.53 670.3 
L 458.36 663.73 
L 458.18 657.16 
L 458 650.59 
L 457.83 644.02 
L 457.65 637.45 
L 457.47 630.88 
L 457.29 624.3 
L 457.11 617.73 
L 456.93 611.16 
L 456.74 604.59 
L 456.57 598.02 
L 456.39 591.45 
L 456.21 584.87 
L 456.03 578.3 
L 455.86 571.73 
L 455.69 565.16 
L 455.52 558.58 
L 455.35 552.01 
L 455.19 545.44 
L 455.03 538.86 
L 454.87 532.29 
L 454.72 525.71 
L 454.57 519.14 
L 454.43 512.56 
L 454.29 505.99 
L 454.16 499.41 
L 454.03 492.84 
L 453.91 486.26 
L 453.8 479.68 
L 453.69 473.11 
L 453.59 466.53 
L 453.5 459.95 
L 453.41 453.37 
L 453.33 446.79 
L 453.26 440.21 
L 453.2 433.63 
L 453.14 427.05 
L 453.1 420.47 
L 453.06 413.89 
L 453.04 407.3 
L 453.02 400.72 
L 453.02 394.14 
L 453.02 387.55 
L 453.04 380.97 
L 453.07 374.38 
L 453.1 367.79 
L 453.15 361.2 
L 453.22 354.62 
L 453.29 348.03 
L 453.38 341.44 
L 453.48 334.85 
L 453.6 328.26 
L 453.72 321.66 
L 453.86 315.07 
L 454.02 308.48 
z
" clip-path="url(#p20d32cc2dd)" style="fill: #e41a1c"/>
   </g>
   <g id="line2d_2">
    <path d="M 454.02 292.48 
L 453.48 318.85 
L 453.15 345.2 
L 453.02 371.55 
L 453.1 404.47 
L 453.41 437.37 
L 454.03 476.84 
L 455.03 522.86 
L 456.57 582.02 
L 459.35 687.16 
L 460.32 733.16 
L 460.92 772.6 
L 461.21 805.48 
L 461.26 838.36 
L 461.1 864.68 
L 460.64 897.59 
L 460.32 923.93 
L 460.32 937.11 
L 460.48 950.3 
L 460.87 963.5 
L 461.52 976.71 
L 462.5 989.93 
L 463.86 1003.16 
L 464.69 1009.78 
L 465.64 1016.41 
L 466.7 1023.04 
L 467.89 1029.67 
L 469.21 1036.31 
L 470.67 1042.95 
L 472.28 1049.6 
L 474.03 1056.25 
L 475.96 1062.86 
L 478.07 1069.38 
L 480.4 1075.77 
L 482.95 1081.98 
L 485.75 1087.95 
L 488.83 1093.63 
L 492.19 1098.98 
L 495.87 1103.94 
L 499.88 1108.47 
L 504.24 1112.51 
L 508.97 1116.01 
L 514.06 1118.96 
L 519.46 1121.36 
L 525.12 1123.23 
L 530.99 1124.56 
L 537.03 1125.37 
L 543.17 1125.68 
L 549.38 1125.48 
L 555.59 1124.79 
L 561.78 1123.61 
L 567.9 1121.98 
L 573.97 1119.93 
L 579.98 1117.5 
L 585.95 1114.74 
L 591.89 1111.68 
L 597.79 1108.37 
L 603.66 1104.85 
L 609.51 1101.15 
L 621.15 1093.4 
L 644.41 1077.63 
L 650.25 1073.87 
L 656.11 1070.27 
L 662 1066.86 
L 667.91 1063.69 
L 673.86 1060.79 
L 679.85 1058.14 
L 685.86 1055.69 
L 691.9 1053.42 
L 704.02 1049.23 
L 728.33 1041.15 
L 740.45 1036.74 
L 752.53 1032.02 
L 764.56 1027 
L 776.54 1021.72 
L 788.46 1016.19 
L 800.31 1010.43 
L 812.09 1004.46 
L 823.79 998.31 
L 835.41 991.99 
L 846.94 985.53 
L 858.37 978.94 
L 875.37 968.84 
L 892.21 958.5 
L 908.9 947.96 
L 925.47 937.24 
L 947.4 922.72 
L 969.21 908.01 
L 1007.2 882.04 
L 1045.21 856.1 
L 1067.05 841.45 
L 1089.02 826.98 
L 1111.12 812.72 
L 1133.37 798.69 
L 1155.76 784.89 
L 1172.65 774.71 
L 1189.63 764.67 
L 1206.7 754.8 
L 1223.85 745.08 
L 1241.1 735.53 
L 1258.44 726.16 
L 1275.88 716.96 
L 1293.41 707.96 
L 1311.05 699.14 
L 1328.78 690.53 
L 1346.62 682.12 
L 1364.56 673.91 
L 1388.57 663.17 
L 1454.61 633.85 
L 1472.49 625.65 
L 1490.24 617.26 
L 1507.85 608.62 
L 1519.49 602.7 
L 1531.05 596.62 
L 1542.5 590.38 
L 1553.85 583.95 
L 1565.09 577.32 
L 1576.2 570.49 
L 1587.2 563.45 
L 1598.1 556.23 
L 1608.89 548.85 
L 1619.6 541.3 
L 1630.22 533.61 
L 1646.02 521.83 
L 1661.67 509.8 
L 1677.2 497.57 
L 1697.76 481.01 
L 1723.32 460.07 
L 1769.29 422.32 
L 1789.85 405.78 
L 1805.37 393.56 
L 1821.02 381.54 
L 1836.8 369.79 
L 1847.42 362.11 
L 1858.11 354.58 
L 1868.9 347.21 
L 1879.79 340.01 
L 1890.78 333 
L 1901.88 326.19 
L 1913.1 319.59 
L 1924.46 313.21 
L 1935.94 307.07 
L 1947.57 301.19 
L 1959.35 295.57 
L 1971.29 290.22 
L 1983.39 285.17 
L 1995.67 280.42 
L 2008.13 275.99 
L 2020.77 271.89 
L 2033.61 268.14 
L 2046.65 264.74 
L 2053.26 263.18 
L 2053.26 263.18 
" clip-path="url(#p20d32cc2dd)" style="fill: none; stroke: #e41a1c; stroke-width: 18"/>
   </g>
   <g id="line2d_3">
    <path d="M 466.72 3772.39 
L 466.06 3760.1 
L 465.78 3747.89 
L 465.86 3735.76 
L 466.28 3723.72 
L 467.02 3711.76 
L 468.09 3699.87 
L 469.45 3688.05 
L 471.11 3676.3 
L 473.05 3664.61 
L 475.25 3652.99 
L 477.7 3641.43 
L 480.39 3629.92 
L 483.3 3618.46 
L 486.42 3607.06 
L 489.75 3595.69 
L 493.26 3584.38 
L 496.94 3573.1 
L 500.78 3561.86 
L 506.82 3545.05 
L 513.14 3528.31 
L 519.7 3511.63 
L 526.45 3494.99 
L 535.69 3472.84 
L 549.83 3439.68 
L 566.32 3400.95 
L 584.9 3356.62 
L 605.77 3306.83 
L 617.52 3279.29 
L 627.07 3257.36 
L 636.81 3235.53 
L 646.77 3213.84 
L 654.41 3197.66 
L 662.21 3181.58 
L 670.2 3165.6 
L 678.36 3149.73 
L 686.71 3133.95 
L 695.24 3118.28 
L 703.96 3102.72 
L 712.86 3087.27 
L 721.94 3071.92 
L 731.22 3056.69 
L 740.68 3041.56 
L 750.33 3026.56 
L 760.16 3011.66 
L 770.19 2996.88 
L 780.41 2982.22 
L 790.82 2967.68 
L 801.42 2953.26 
L 812.2 2938.95 
L 823.16 2924.77 
L 834.29 2910.7 
L 845.59 2896.76 
L 857.05 2882.93 
L 868.67 2869.23 
L 880.44 2855.64 
L 892.37 2842.18 
L 904.44 2828.83 
L 916.65 2815.61 
L 929 2802.51 
L 941.48 2789.53 
L 954.08 2776.67 
L 966.81 2763.93 
L 979.65 2751.32 
L 996.96 2734.69 
L 1014.45 2718.27 
L 1032.12 2702.08 
L 1049.96 2686.1 
L 1067.96 2670.35 
L 1086.11 2654.81 
L 1104.41 2639.5 
L 1122.87 2624.4 
L 1141.48 2609.54 
L 1160.26 2594.9 
L 1179.2 2580.49 
L 1198.31 2566.31 
L 1217.59 2552.37 
L 1237.04 2538.66 
L 1256.66 2525.18 
L 1271.49 2515.23 
L 1286.42 2505.42 
L 1301.45 2495.74 
L 1316.59 2486.19 
L 1331.83 2476.79 
L 1347.17 2467.52 
L 1362.62 2458.39 
L 1378.17 2449.4 
L 1393.84 2440.55 
L 1409.6 2431.84 
L 1430.77 2420.43 
L 1452.09 2409.27 
L 1473.53 2398.34 
L 1495.07 2387.64 
L 1516.7 2377.17 
L 1538.39 2366.91 
L 1560.12 2356.87 
L 1581.91 2347.09 
L 1598.3 2339.97 
L 1614.74 2333.08 
L 1631.27 2326.45 
L 1647.88 2320.12 
L 1659.01 2316.08 
L 1670.19 2312.21 
L 1681.42 2308.5 
L 1692.71 2304.97 
L 1704.06 2301.64 
L 1715.48 2298.5 
L 1726.97 2295.57 
L 1738.52 2292.84 
L 1750.12 2290.3 
L 1761.79 2287.94 
L 1773.5 2285.76 
L 1785.27 2283.75 
L 1797.07 2281.9 
L 1808.92 2280.2 
L 1826.76 2277.93 
L 1844.66 2275.96 
L 1862.62 2274.27 
L 1880.61 2272.83 
L 1898.64 2271.63 
L 1916.68 2270.63 
L 1940.73 2269.57 
L 1964.75 2268.78 
L 1994.69 2268.07 
L 2030.4 2267.47 
L 2059.91 2267.05 
L 2059.91 2267.05 
" clip-path="url(#p7a286fae0c)" style="fill: none; stroke: #4f4f4f; stroke-width: 19"/>
   </g>
   <g id="line2d_4">
    <path d="M 451.03 294.98 
L 451.83 359.62 
L 452.58 438.57 
L 454.52 660.83 
L 455.4 725.33 
L 456.29 775.49 
L 457.38 825.65 
L 458.53 868.65 
L 459.89 911.65 
L 461.48 954.66 
L 463.01 990.51 
L 464.74 1026.36 
L 466.68 1062.23 
L 468.85 1098.1 
L 471.26 1133.99 
L 472.82 1155.52 
L 473.42 1162.69 
L 474.13 1169.83 
L 475.02 1176.94 
L 476.15 1183.99 
L 477.59 1190.97 
L 479.39 1197.86 
L 481.62 1204.66 
L 484.35 1211.34 
L 487.63 1217.89 
L 491.53 1224.14 
L 496.1 1229.79 
L 501.42 1234.55 
L 507.45 1238.18 
L 513.99 1240.55 
L 520.82 1241.58 
L 527.69 1241.16 
L 534.44 1239.33 
L 541.07 1236.47 
L 560.84 1226.23 
L 567.48 1223.09 
L 574.15 1220.12 
L 580.84 1217.32 
L 587.57 1214.68 
L 594.32 1212.18 
L 601.1 1209.83 
L 607.9 1207.6 
L 614.73 1205.5 
L 628.44 1201.63 
L 642.24 1198.13 
L 656.1 1194.93 
L 670.02 1191.97 
L 690.99 1187.79 
L 747.2 1176.82 
L 768.29 1172.45 
L 789.31 1167.78 
L 803.28 1164.47 
L 817.19 1160.97 
L 831.04 1157.25 
L 844.81 1153.29 
L 858.5 1149.05 
L 872.09 1144.52 
L 885.57 1139.67 
L 898.94 1134.52 
L 912.2 1129.08 
L 925.36 1123.36 
L 938.41 1117.38 
L 951.36 1111.14 
L 964.2 1104.67 
L 976.93 1097.97 
L 989.57 1091.06 
L 1002.09 1083.96 
L 1014.52 1076.67 
L 1026.84 1069.2 
L 1039.06 1061.58 
L 1051.17 1053.82 
L 1063.19 1045.92 
L 1081.02 1033.86 
L 1098.62 1021.58 
L 1121.88 1005.09 
L 1133.65 997.07 
L 1139.62 993.17 
L 1145.67 989.38 
L 1151.81 985.71 
L 1164.34 978.69 
L 1183.28 968.31 
L 1189.5 964.71 
L 1195.61 960.97 
L 1201.59 957.04 
L 1207.42 952.92 
L 1213.11 948.61 
L 1218.7 944.16 
L 1224.2 939.58 
L 1235.02 930.17 
L 1256.51 911.12 
L 1267.4 901.77 
L 1283.89 887.94 
L 1316.94 860.42 
L 1327.83 851.12 
L 1338.6 841.68 
L 1349.2 832.06 
L 1359.61 822.22 
L 1369.84 812.17 
L 1379.92 801.95 
L 1389.87 791.59 
L 1404.64 775.88 
L 1443.82 733.79 
L 1458.73 718.26 
L 1473.8 702.93 
L 1514.06 662.25 
L 1528.92 646.78 
L 1538.68 636.32 
L 1548.31 625.73 
L 1557.82 615.01 
L 1571.88 598.73 
L 1585.73 582.23 
L 1599.42 565.58 
L 1617.49 543.18 
L 1648.86 503.74 
L 1671.33 475.64 
L 1684.92 458.9 
L 1698.65 442.3 
L 1712.55 425.88 
L 1721.94 415.05 
L 1731.43 404.34 
L 1741.05 393.75 
L 1750.8 383.3 
L 1760.7 372.99 
L 1770.75 362.85 
L 1780.97 352.89 
L 1791.37 343.11 
L 1801.97 333.53 
L 1812.77 324.15 
L 1823.79 315.01 
L 1835.04 306.1 
L 1846.54 297.45 
L 1858.27 289.1 
L 1864.23 285.06 
L 1870.26 281.12 
L 1876.35 277.28 
L 1882.5 273.55 
L 1888.71 269.94 
L 1895 266.46 
L 1901.34 263.1 
L 1907.76 259.88 
L 1914.24 256.81 
L 1920.79 253.88 
L 1927.4 251.12 
L 1934.09 248.52 
L 1940.84 246.08 
L 1947.65 243.79 
L 1954.52 241.65 
L 1961.43 239.63 
L 1975.37 235.92 
L 1989.41 232.56 
L 2003.51 229.45 
L 2052.47 218.95 
L 2052.47 218.95 
" clip-path="url(#p20d32cc2dd)" style="fill: none; stroke-dasharray: 60,25.9; stroke-dashoffset: 20; stroke: #e41a1c; stroke-width: 16.2"/>
   </g>
   <g id="line2d_5">
    <path d="M 451.07 339.7 
L 452.24 439.57 
L 453.55 530.71 
L 454.96 613.65 
L 456.44 688.74 
L 458.15 763.73 
L 460.09 838.77 
L 462.06 906.51 
L 464.27 974.56 
L 466.72 1043.06 
L 469.43 1112.14 
L 472.08 1174.12 
L 472.85 1189.66 
L 473.35 1197.39 
L 473.98 1205.07 
L 474.76 1212.66 
L 475.74 1220.16 
L 476.95 1227.55 
L 478.42 1234.8 
L 480.2 1241.89 
L 482.31 1248.81 
L 484.8 1255.54 
L 487.7 1262.05 
L 491.04 1268.32 
L 494.86 1274.34 
L 499.19 1280.09 
L 504.07 1285.54 
L 509.46 1290.54 
L 515.3 1294.94 
L 521.5 1298.53 
L 528.01 1301.14 
L 534.77 1302.58 
L 541.69 1302.67 
L 548.71 1301.28 
L 555.82 1298.71 
L 562.98 1295.45 
L 570.21 1292 
L 577.48 1288.86 
L 584.78 1286.32 
L 592.12 1284.32 
L 599.48 1282.8 
L 606.88 1281.7 
L 614.29 1280.94 
L 621.73 1280.45 
L 629.19 1280.16 
L 644.14 1279.91 
L 659.14 1279.66 
L 674.16 1279.17 
L 689.21 1278.44 
L 704.27 1277.49 
L 719.35 1276.33 
L 734.44 1274.95 
L 749.53 1273.38 
L 764.63 1271.62 
L 779.72 1269.67 
L 794.8 1267.55 
L 809.87 1265.27 
L 824.92 1262.84 
L 847.45 1258.91 
L 869.92 1254.69 
L 892.31 1250.2 
L 914.61 1245.47 
L 936.8 1240.53 
L 958.86 1235.41 
L 988.06 1228.35 
L 1016.98 1221.1 
L 1067.15 1208.2 
L 1103.02 1199.05 
L 1131.94 1191.92 
L 1153.87 1186.74 
L 1176.07 1181.75 
L 1198.6 1176.98 
L 1221.41 1172.39 
L 1298.53 1157.15 
L 1321.66 1152.23 
L 1337 1148.77 
L 1352.25 1145.14 
L 1367.39 1141.31 
L 1382.38 1137.25 
L 1397.21 1132.93 
L 1411.85 1128.33 
L 1426.27 1123.41 
L 1440.46 1118.14 
L 1447.46 1115.37 
L 1454.38 1112.51 
L 1461.24 1109.55 
L 1468.02 1106.48 
L 1474.72 1103.31 
L 1481.34 1100.02 
L 1487.87 1096.62 
L 1494.32 1093.11 
L 1500.68 1089.47 
L 1506.94 1085.72 
L 1513.11 1081.83 
L 1519.18 1077.83 
L 1525.17 1073.7 
L 1531.06 1069.46 
L 1536.87 1065.11 
L 1542.58 1060.64 
L 1548.21 1056.06 
L 1553.74 1051.37 
L 1559.2 1046.58 
L 1564.56 1041.68 
L 1569.85 1036.68 
L 1575.05 1031.58 
L 1580.16 1026.38 
L 1585.2 1021.09 
L 1590.16 1015.7 
L 1595.03 1010.22 
L 1599.83 1004.65 
L 1604.55 999 
L 1613.76 987.44 
L 1622.67 975.56 
L 1631.29 963.37 
L 1639.63 950.89 
L 1647.69 938.15 
L 1655.48 925.15 
L 1663.01 911.92 
L 1670.29 898.47 
L 1677.32 884.82 
L 1684.12 870.98 
L 1690.69 856.98 
L 1697.03 842.83 
L 1703.16 828.54 
L 1709.09 814.15 
L 1714.81 799.65 
L 1720.34 785.08 
L 1725.69 770.44 
L 1730.87 755.76 
L 1735.87 741.05 
L 1743.08 718.96 
L 1749.98 696.9 
L 1758.85 667.56 
L 1778.38 602.14 
L 1785.07 580.61 
L 1792 559.25 
L 1796.78 545.12 
L 1801.74 531.09 
L 1806.89 517.17 
L 1812.25 503.36 
L 1817.86 489.66 
L 1823.74 476.1 
L 1829.92 462.66 
L 1836.41 449.37 
L 1843.25 436.23 
L 1850.46 423.24 
L 1858.07 410.42 
L 1862.03 404.07 
L 1866.1 397.77 
L 1870.28 391.51 
L 1874.58 385.3 
L 1878.99 379.13 
L 1883.53 373.01 
L 1888.19 366.93 
L 1892.98 360.91 
L 1897.89 354.94 
L 1902.94 349.05 
L 1908.11 343.23 
L 1913.42 337.52 
L 1918.85 331.92 
L 1924.4 326.45 
L 1930.08 321.13 
L 1935.88 315.97 
L 1941.81 310.98 
L 1947.86 306.18 
L 1954.03 301.59 
L 1960.32 297.22 
L 1966.74 293.08 
L 1973.27 289.19 
L 1979.92 285.57 
L 1986.69 282.23 
L 1993.57 279.19 
L 2000.57 276.45 
L 2007.69 274.04 
L 2014.92 271.97 
L 2022.27 270.26 
L 2029.73 268.91 
L 2037.3 267.96 
L 2044.99 267.4 
L 2052.78 267.26 
L 2052.78 267.26 
" clip-path="url(#p20d32cc2dd)" style="fill: none; stroke-dasharray: 60,25.9; stroke-dashoffset: 63.9; stroke: #4f4f4f; stroke-width: 16.2"/>
   </g>
   <g id="line2d_6">
    <path d="M 460 1666 
L 464.75 1719.75 
L 465.77 1730 
L 467 1740 
L 469.23 1755.1 
L 470.95 1765.01 
L 471.9 1769.67 
L 472.91 1774.03 
L 474 1778 
L 475.16 1781.6 
L 476.38 1784.91 
L 477.66 1787.95 
L 479 1790.75 
L 480.41 1793.33 
L 481.88 1795.72 
L 483.41 1797.93 
L 485 1800 
L 486.65 1801.88 
L 488.35 1803.53 
L 490.11 1804.98 
L 491.94 1806.25 
L 493.83 1807.36 
L 495.8 1808.34 
L 497.86 1809.21 
L 500 1810 
L 502.26 1810.69 
L 504.65 1811.27 
L 507.13 1811.73 
L 509.69 1812.06 
L 512.28 1812.26 
L 514.88 1812.32 
L 517.47 1812.24 
L 520 1812 
L 522.5 1811.58 
L 525 1810.95 
L 527.5 1810.17 
L 532.5 1808.24 
L 542.5 1803.89 
L 547.5 1801.43 
L 564.53 1792.47 
L 568.75 1789.88 
L 571.04 1788.67 
L 573.59 1787.59 
L 576.54 1786.69 
L 580 1786 
L 584.11 1785.56 
L 588.83 1785.34 
L 593.97 1785.3 
L 604.85 1785.53 
L 620 1786 
L 639.92 1786.23 
L 650 1787 
L 656.73 1787.71 
L 672.66 1789.75 
L 690.89 1792.13 
L 700.51 1793.26 
L 710.26 1794.24 
L 720 1795 
L 740.2 1796.25 
L 750.78 1796.8 
L 761.56 1797.25 
L 772.47 1797.54 
L 783.4 1797.62 
L 794.27 1797.46 
L 805 1797 
L 815.69 1796.16 
L 826.48 1794.94 
L 837.31 1793.44 
L 858.86 1789.97 
L 879.85 1786.5 
L 890 1785 
L 919.96 1781.06 
L 948.24 1777.38 
L 965 1775 
L 972.28 1773.82 
L 984.48 1771.51 
L 1001.33 1768.16 
L 1007.72 1767.07 
L 1023.28 1764.86 
L 1041.95 1762.36 
L 1051.88 1761.12 
L 1061.88 1760 
L 1071.72 1759.06 
L 1081.17 1758.37 
L 1090 1758 
L 1098.08 1758.13 
L 1105.59 1758.76 
L 1112.72 1759.71 
L 1126.69 1761.87 
L 1133.95 1762.71 
L 1141.65 1763.15 
L 1150 1763 
L 1159.04 1762.13 
L 1168.59 1760.66 
L 1178.54 1758.78 
L 1199.12 1754.57 
L 1209.53 1752.62 
L 1219.86 1751.03 
L 1230 1750 
L 1240.1 1749.51 
L 1250.35 1749.38 
L 1260.66 1749.52 
L 1270.94 1749.88 
L 1291.05 1750.94 
L 1310 1752 
L 1335.03 1753.3 
L 1350.55 1754.41 
L 1358.4 1755.12 
L 1366.5 1755.97 
L 1375 1757 
L 1383.93 1758.21 
L 1402.61 1761.11 
L 1421.8 1764.48 
L 1440.8 1768.13 
L 1450 1770 
L 1458.92 1772.02 
L 1467.62 1774.25 
L 1493.24 1781.33 
L 1501.91 1783.5 
L 1510.81 1785.42 
L 1520 1787 
L 1529.73 1788.21 
L 1540 1789.14 
L 1550.59 1789.84 
L 1571.76 1790.8 
L 1591.37 1791.55 
L 1600 1792 
L 1613.44 1793.03 
L 1628.91 1794.4 
L 1634.69 1794.72 
L 1641.56 1794.93 
L 1650 1795 
L 1659.94 1794.86 
L 1670.9 1794.48 
L 1722.07 1792.33 
L 1735.96 1792.03 
L 1750 1792 
L 1764.6 1792.29 
L 1780.08 1792.85 
L 1812.5 1794.44 
L 1844.92 1796.05 
L 1860.4 1796.66 
L 1875 1797 
L 1888.85 1797.11 
L 1902.29 1797.06 
L 1927.97 1796.62 
L 1952.17 1795.88 
L 1975 1795 
L 1986.29 1794.48 
L 2009.12 1793.12 
L 2039.1 1790.97 
L 2052.5 1790 
L 2052.5 1790 
" clip-path="url(#p20d32cc2dd)" style="fill: none; stroke-dasharray: 16.2,26.7; stroke-dashoffset: 31.53; stroke: #377eb8; stroke-width: 16.2"/>
   </g>
   <g id="line2d_7">
    <path d="M 458.5 16.9 
L 460 1666 
" clip-path="url(#p20d32cc2dd)" style="fill: none; stroke-dasharray: 16.2,26.7; stroke-dashoffset: 0; stroke: #377eb8; stroke-width: 16.2"/>
   </g>
   <g id="line2d_8">
    <path d="M 465 1778 
L 473.68 1801.92 
L 479.38 1815.06 
L 480.52 1817.16 
L 481.8 1819.04 
L 483.27 1820.66 
L 485 1822 
L 486.99 1823 
L 489.18 1823.65 
L 491.55 1824.02 
L 494.06 1824.19 
L 499.41 1824.13 
L 505 1824 
L 510.9 1824.25 
L 517.19 1824.5 
L 520.41 1824.39 
L 523.63 1824 
L 526.84 1823.23 
L 530 1822 
L 533.16 1820.14 
L 536.37 1817.67 
L 539.59 1814.78 
L 545.99 1808.4 
L 549.1 1805.27 
L 552.11 1802.41 
L 563.75 1792.75 
L 565.89 1791.33 
L 568.36 1790.06 
L 571.34 1788.95 
L 575 1788 
L 579.53 1787.25 
L 584.84 1786.73 
L 590.7 1786.39 
L 603.12 1786.09 
L 636.48 1785.98 
L 644.44 1786.52 
L 650 1787 
L 656.73 1787.71 
L 672.66 1789.75 
L 690.89 1792.13 
L 700.51 1793.26 
L 710.26 1794.24 
L 720 1795 
L 740.2 1796.25 
L 750.78 1796.8 
L 761.56 1797.25 
L 772.47 1797.54 
L 783.4 1797.62 
L 794.27 1797.46 
L 805 1797 
L 815.69 1796.16 
L 826.48 1794.94 
L 837.31 1793.44 
L 858.86 1789.97 
L 879.85 1786.5 
L 890 1785 
L 919.96 1781.06 
L 948.24 1777.38 
L 965 1775 
L 972.28 1773.82 
L 984.48 1771.51 
L 1001.33 1768.16 
L 1007.72 1767.07 
L 1023.28 1764.86 
L 1041.95 1762.36 
L 1051.88 1761.12 
L 1061.88 1760 
L 1071.72 1759.06 
L 1081.17 1758.37 
L 1090 1758 
L 1098.08 1758.13 
L 1105.59 1758.76 
L 1112.72 1759.71 
L 1126.69 1761.87 
L 1133.95 1762.71 
L 1141.65 1763.15 
L 1150 1763 
L 1159.04 1762.13 
L 1168.59 1760.66 
L 1178.54 1758.78 
L 1199.12 1754.57 
L 1209.53 1752.62 
L 1219.86 1751.03 
L 1230 1750 
L 1240.1 1749.51 
L 1250.35 1749.38 
L 1260.66 1749.52 
L 1270.94 1749.88 
L 1291.05 1750.94 
L 1310 1752 
L 1335.03 1753.3 
L 1350.55 1754.41 
L 1358.4 1755.12 
L 1366.5 1755.97 
L 1375 1757 
L 1383.93 1758.21 
L 1402.61 1761.11 
L 1421.8 1764.48 
L 1440.8 1768.13 
L 1450 1770 
L 1458.92 1772.02 
L 1467.62 1774.25 
L 1493.24 1781.33 
L 1501.91 1783.5 
L 1510.81 1785.42 
L 1520 1787 
L 1529.73 1788.21 
L 1540 1789.14 
L 1550.59 1789.84 
L 1571.76 1790.8 
L 1591.37 1791.55 
L 1600 1792 
L 1613.44 1793.03 
L 1628.91 1794.4 
L 1634.69 1794.72 
L 1641.56 1794.93 
L 1650 1795 
L 1659.94 1794.86 
L 1670.9 1794.48 
L 1722.07 1792.33 
L 1735.96 1792.03 
L 1750 1792 
L 1764.6 1792.29 
L 1780.08 1792.85 
L 1812.5 1794.44 
L 1844.92 1796.05 
L 1860.4 1796.66 
L 1875 1797 
L 1888.85 1797.11 
L 1902.29 1797.06 
L 1927.97 1796.62 
L 1952.17 1795.88 
L 1975 1795 
L 1986.29 1794.48 
L 2009.12 1793.12 
L 2039.1 1790.97 
L 2052.5 1790 
L 2052.5 1790 
" clip-path="url(#p20d32cc2dd)" style="fill: none; stroke-dasharray: 16.2,26.7; stroke-dashoffset: 13.59; stroke: #a65628; stroke-width: 16.2"/>
   </g>
   <g id="line2d_9">
    <path d="M 462.24 3774.6 
L 458.59 3765.99 
L 455.63 3757.83 
L 453.36 3750.08 
L 451.73 3742.75 
L 450.72 3735.8 
L 450.3 3729.24 
L 450.46 3723.04 
L 451.15 3717.2 
L 452.35 3711.69 
L 454.03 3706.5 
L 456.18 3701.62 
L 458.75 3697.03 
L 461.73 3692.72 
L 465.09 3688.68 
L 468.79 3684.88 
L 472.81 3681.32 
L 477.12 3677.98 
L 481.68 3674.83 
L 486.45 3671.83 
L 491.39 3668.98 
L 496.46 3666.23 
L 506.84 3660.95 
L 522.6 3653.31 
L 538.51 3645.92 
L 554.57 3638.77 
L 570.74 3631.8 
L 587.03 3624.99 
L 608.88 3616.1 
L 636.37 3605.2 
L 708.3 3576.86 
L 730.42 3567.85 
L 752.5 3558.62 
L 774.52 3549.15 
L 796.46 3539.46 
L 818.33 3529.53 
L 840.11 3519.35 
L 861.78 3508.94 
L 883.35 3498.28 
L 904.8 3487.37 
L 926.11 3476.2 
L 942 3467.66 
L 957.81 3458.97 
L 973.54 3450.13 
L 989.17 3441.15 
L 1004.7 3432.01 
L 1020.13 3422.72 
L 1035.46 3413.28 
L 1050.68 3403.68 
L 1065.78 3393.93 
L 1080.77 3384.02 
L 1095.64 3373.95 
L 1110.37 3363.71 
L 1124.98 3353.32 
L 1139.45 3342.76 
L 1153.79 3332.04 
L 1167.98 3321.15 
L 1182.02 3310.09 
L 1195.91 3298.86 
L 1209.64 3287.46 
L 1223.21 3275.89 
L 1236.62 3264.15 
L 1249.86 3252.22 
L 1262.92 3240.13 
L 1275.81 3227.85 
L 1288.53 3215.41 
L 1301.07 3202.8 
L 1313.44 3190.02 
L 1325.64 3177.08 
L 1337.67 3163.98 
L 1349.52 3150.72 
L 1361.21 3137.31 
L 1372.72 3123.75 
L 1384.06 3110.05 
L 1395.23 3096.19 
L 1406.23 3082.2 
L 1417.05 3068.07 
L 1427.71 3053.8 
L 1438.2 3039.4 
L 1448.52 3024.86 
L 1458.67 3010.21 
L 1468.65 2995.43 
L 1478.46 2980.52 
L 1488.11 2965.5 
L 1497.59 2950.37 
L 1506.89 2935.12 
L 1516.03 2919.76 
L 1525.01 2904.3 
L 1533.81 2888.74 
L 1542.45 2873.07 
L 1550.93 2857.31 
L 1559.24 2841.45 
L 1567.38 2825.51 
L 1575.35 2809.47 
L 1583.16 2793.35 
L 1590.81 2777.15 
L 1598.29 2760.87 
L 1605.61 2744.51 
L 1612.76 2728.08 
L 1619.75 2711.58 
L 1626.57 2695.01 
L 1633.23 2678.38 
L 1639.73 2661.68 
L 1646.07 2644.93 
L 1652.24 2628.12 
L 1658.25 2611.26 
L 1664.1 2594.35 
L 1671.67 2571.73 
L 1682.75 2537.71 
L 1693.86 2503.63 
L 1701.49 2480.92 
L 1707.42 2463.91 
L 1713.58 2446.92 
L 1720.02 2429.98 
L 1724.5 2418.71 
L 1729.14 2407.47 
L 1733.96 2396.26 
L 1738.97 2385.07 
L 1744.2 2373.92 
L 1749.65 2362.83 
L 1755.36 2351.87 
L 1761.38 2341.15 
L 1764.52 2335.91 
L 1767.74 2330.76 
L 1771.06 2325.72 
L 1774.48 2320.8 
L 1778.01 2316.01 
L 1781.64 2311.35 
L 1785.39 2306.86 
L 1789.25 2302.52 
L 1793.24 2298.37 
L 1797.36 2294.4 
L 1801.61 2290.64 
L 1806 2287.09 
L 1810.52 2283.75 
L 1815.18 2280.63 
L 1819.97 2277.71 
L 1824.88 2274.99 
L 1829.91 2272.46 
L 1835.05 2270.11 
L 1840.29 2267.95 
L 1845.64 2265.95 
L 1851.08 2264.12 
L 1856.61 2262.45 
L 1862.22 2260.94 
L 1867.92 2259.57 
L 1873.69 2258.34 
L 1879.53 2257.24 
L 1885.43 2256.27 
L 1891.39 2255.42 
L 1897.4 2254.68 
L 1909.56 2253.52 
L 1921.86 2252.74 
L 1934.27 2252.29 
L 1946.74 2252.11 
L 1959.22 2252.15 
L 1977.88 2252.51 
L 2008.45 2253.49 
L 2032.05 2254.15 
L 2043.44 2254.29 
L 2054.5 2254.24 
L 2059.9 2254.12 
L 2059.9 2254.12 
" clip-path="url(#p7a286fae0c)" style="fill: none; stroke-dasharray: 60,25.9; stroke-dashoffset: 0; stroke: #377eb8; stroke-width: 16.2"/>
   </g>
   <g id="line2d_10">
    <path d="M 461.58 3773.63 
L 459.21 3766.07 
L 457.2 3758.71 
L 455.56 3751.55 
L 454.3 3744.6 
L 453.43 3737.87 
L 452.95 3731.34 
L 452.87 3725.04 
L 453.18 3718.97 
L 453.91 3713.12 
L 455.05 3707.51 
L 456.6 3702.14 
L 458.59 3697.01 
L 461 3692.13 
L 463.81 3687.47 
L 466.97 3683.01 
L 470.44 3678.73 
L 474.17 3674.59 
L 478.12 3670.56 
L 482.25 3666.63 
L 490.86 3658.92 
L 530.91 3624.14 
L 562.56 3596.51 
L 585.21 3576.41 
L 603.24 3560.08 
L 621.13 3543.53 
L 634.41 3530.95 
L 647.55 3518.23 
L 660.54 3505.37 
L 673.38 3492.37 
L 686.07 3479.23 
L 698.62 3465.96 
L 711.02 3452.56 
L 723.28 3439.03 
L 735.4 3425.37 
L 747.38 3411.59 
L 759.22 3397.69 
L 770.92 3383.68 
L 782.48 3369.55 
L 793.91 3355.3 
L 805.2 3340.95 
L 816.36 3326.49 
L 827.39 3311.93 
L 841.88 3292.36 
L 856.15 3272.61 
L 870.18 3252.7 
L 883.99 3232.63 
L 897.58 3212.4 
L 910.94 3192.03 
L 924.09 3171.52 
L 937.02 3150.87 
L 949.74 3130.1 
L 962.25 3109.2 
L 974.55 3088.19 
L 986.65 3067.07 
L 998.54 3045.85 
L 1010.24 3024.54 
L 1021.73 3003.13 
L 1033.05 2981.65 
L 1046.95 2954.69 
L 1060.64 2927.63 
L 1076.82 2895.06 
L 1095.45 2856.94 
L 1119.19 2807.83 
L 1156.1 2731.4 
L 1174.77 2693.26 
L 1191.01 2660.66 
L 1204.75 2633.58 
L 1218.72 2606.59 
L 1230.09 2585.08 
L 1241.66 2563.65 
L 1253.44 2542.3 
L 1265.45 2521.05 
L 1277.71 2499.9 
L 1287.09 2484.11 
L 1296.63 2468.39 
L 1306.34 2452.74 
L 1316.27 2437.23 
L 1323.05 2427.01 
L 1329.97 2416.93 
L 1337.06 2406.99 
L 1344.34 2397.24 
L 1351.82 2387.7 
L 1359.52 2378.39 
L 1367.47 2369.34 
L 1375.69 2360.58 
L 1384.18 2352.13 
L 1388.54 2348.04 
L 1392.98 2344.03 
L 1397.49 2340.11 
L 1402.09 2336.29 
L 1406.78 2332.57 
L 1411.55 2328.95 
L 1416.4 2325.43 
L 1421.34 2322 
L 1426.35 2318.68 
L 1431.44 2315.45 
L 1436.6 2312.31 
L 1441.82 2309.28 
L 1447.11 2306.33 
L 1457.88 2300.71 
L 1468.88 2295.46 
L 1480.09 2290.56 
L 1491.47 2286 
L 1503.01 2281.78 
L 1514.69 2277.89 
L 1526.48 2274.31 
L 1538.36 2271.05 
L 1550.3 2268.09 
L 1562.28 2265.42 
L 1574.28 2263.04 
L 1586.31 2260.93 
L 1598.34 2259.08 
L 1610.39 2257.48 
L 1622.46 2256.11 
L 1634.54 2254.96 
L 1646.63 2254.02 
L 1658.73 2253.27 
L 1670.85 2252.71 
L 1682.98 2252.32 
L 1701.18 2252.01 
L 1719.41 2252.01 
L 1737.65 2252.28 
L 1755.91 2252.76 
L 1780.27 2253.67 
L 1810.74 2255.09 
L 1877.81 2258.35 
L 1902.18 2259.26 
L 1920.46 2259.74 
L 1938.72 2260 
L 1956.97 2260 
L 1975.2 2259.69 
L 1987.35 2259.29 
L 1999.48 2258.73 
L 2011.61 2257.98 
L 2023.73 2257.03 
L 2035.83 2255.88 
L 2047.92 2254.5 
L 2060 2252.9 
L 2060 2252.9 
" clip-path="url(#p7a286fae0c)" style="fill: none; stroke-dasharray: 60,25.9; stroke-dashoffset: 0; stroke: #4daf4a; stroke-width: 16.2"/>
   </g>
   <g id="line2d_11">
    <path d="M 465.8 3700.22 
L 466.21 3682.17 
L 466.81 3664.09 
L 467.62 3646 
L 468.63 3627.89 
L 469.84 3609.78 
L 471.25 3591.66 
L 472.86 3573.53 
L 474.67 3555.41 
L 476.68 3537.29 
L 478.89 3519.17 
L 481.3 3501.07 
L 483.92 3482.98 
L 486.73 3464.91 
L 489.75 3446.87 
L 492.97 3428.84 
L 496.39 3410.85 
L 500.01 3392.89 
L 503.83 3374.96 
L 507.86 3357.08 
L 512.08 3339.23 
L 516.51 3321.43 
L 521.15 3303.69 
L 525.98 3285.99 
L 531.02 3268.35 
L 536.26 3250.78 
L 541.71 3233.26 
L 547.36 3215.82 
L 553.21 3198.44 
L 559.26 3181.14 
L 565.52 3163.92 
L 571.98 3146.77 
L 578.65 3129.72 
L 585.52 3112.75 
L 592.6 3095.87 
L 599.88 3079.09 
L 607.36 3062.41 
L 615.05 3045.83 
L 622.94 3029.35 
L 631.04 3012.99 
L 639.35 2996.74 
L 647.86 2980.6 
L 656.57 2964.59 
L 665.49 2948.7 
L 674.62 2932.93 
L 683.95 2917.3 
L 693.49 2901.8 
L 703.24 2886.44 
L 713.19 2871.21 
L 723.34 2856.14 
L 733.71 2841.21 
L 744.27 2826.43 
L 755.04 2811.8 
L 766 2797.32 
L 777.17 2783 
L 788.52 2768.84 
L 800.07 2754.83 
L 811.8 2740.98 
L 823.72 2727.3 
L 835.83 2713.78 
L 848.12 2700.42 
L 860.58 2687.23 
L 873.23 2674.21 
L 886.05 2661.37 
L 899.04 2648.69 
L 912.2 2636.19 
L 925.53 2623.87 
L 939.02 2611.72 
L 952.68 2599.75 
L 966.5 2587.97 
L 980.47 2576.37 
L 994.6 2564.95 
L 1008.89 2553.72 
L 1023.33 2542.69 
L 1037.91 2531.84 
L 1052.64 2521.18 
L 1067.52 2510.72 
L 1082.54 2500.46 
L 1097.69 2490.39 
L 1112.98 2480.52 
L 1128.41 2470.86 
L 1143.97 2461.4 
L 1159.66 2452.14 
L 1175.48 2443.1 
L 1191.42 2434.26 
L 1207.49 2425.63 
L 1223.67 2417.21 
L 1239.97 2409.01 
L 1256.39 2401.03 
L 1272.92 2393.26 
L 1289.57 2385.71 
L 1306.32 2378.38 
L 1323.17 2371.27 
L 1340.12 2364.37 
L 1357.17 2357.7 
L 1374.31 2351.24 
L 1391.54 2344.99 
L 1408.86 2338.96 
L 1426.26 2333.15 
L 1443.74 2327.55 
L 1461.29 2322.17 
L 1478.92 2317.01 
L 1496.61 2312.05 
L 1514.37 2307.31 
L 1532.2 2302.79 
L 1550.08 2298.48 
L 1568.01 2294.38 
L 1586 2290.5 
L 1604.04 2286.82 
L 1622.12 2283.36 
L 1640.24 2280.11 
L 1658.4 2277.08 
L 1676.6 2274.25 
L 1694.82 2271.63 
L 1713.07 2269.23 
L 1731.35 2267.03 
L 1749.65 2265.05 
L 1767.96 2263.27 
L 1786.29 2261.7 
L 1804.63 2260.35 
L 1822.97 2259.2 
L 1841.32 2258.25 
L 1859.67 2257.52 
L 1878.02 2256.99 
L 1896.36 2256.67 
L 1914.68 2256.56 
L 1933 2256.65 
L 1951.29 2256.95 
L 1969.57 2257.46 
L 1987.82 2258.17 
L 2006.05 2259.08 
L 2024.24 2260.2 
L 2042.4 2261.53 
L 2060.52 2263.06 
L 2060.52 2263.06 
" clip-path="url(#p7a286fae0c)" style="fill: none; stroke-dasharray: 60,25.9; stroke-dashoffset: 0; stroke: #e41a1c; stroke-width: 16.2"/>
   </g>
   <g id="line2d_12">
    <defs>
     <path id="m86e2e1b672" d="M 0 35.5 
C 9.41 35.5 18.45 31.76 25.1 25.1 
C 31.76 18.45 35.5 9.41 35.5 0 
C 35.5 -9.41 31.76 -18.45 25.1 -25.1 
C 18.45 -31.76 9.41 -35.5 0 -35.5 
C -9.41 -35.5 -18.45 -31.76 -25.1 -25.1 
C -31.76 -18.45 -35.5 -9.41 -35.5 0 
C -35.5 9.41 -31.76 18.45 -25.1 25.1 
C -18.45 31.76 -9.41 35.5 0 35.5 
z
" style="stroke: #4f4f4f; stroke-width: 9"/>
    </defs>
    <g clip-path="url(#p20d32cc2dd)">
     <use xlink:href="#m86e2e1b672" x="453.8" y="365" style="fill-opacity: 0; stroke: #4f4f4f; stroke-width: 9"/>
     <use xlink:href="#m86e2e1b672" x="562" y="1240" style="fill-opacity: 0; stroke: #4f4f4f; stroke-width: 9"/>
     <use xlink:href="#m86e2e1b672" x="671" y="1253" style="fill-opacity: 0; stroke: #4f4f4f; stroke-width: 9"/>
     <use xlink:href="#m86e2e1b672" x="783.6" y="1213" style="fill-opacity: 0; stroke: #4f4f4f; stroke-width: 9"/>
     <use xlink:href="#m86e2e1b672" x="893.7" y="1202.3" style="fill-opacity: 0; stroke: #4f4f4f; stroke-width: 9"/>
     <use xlink:href="#m86e2e1b672" x="1004" y="1199.7" style="fill-opacity: 0; stroke: #4f4f4f; stroke-width: 9"/>
     <use xlink:href="#m86e2e1b672" x="1116.5" y="1180.9" style="fill-opacity: 0; stroke: #4f4f4f; stroke-width: 9"/>
     <use xlink:href="#m86e2e1b672" x="1226" y="1142" style="fill-opacity: 0; stroke: #4f4f4f; stroke-width: 9"/>
     <use xlink:href="#m86e2e1b672" x="1340" y="1115" style="fill-opacity: 0; stroke: #4f4f4f; stroke-width: 9"/>
     <use xlink:href="#m86e2e1b672" x="1450" y="1042.5" style="fill-opacity: 0; stroke: #4f4f4f; stroke-width: 9"/>
     <use xlink:href="#m86e2e1b672" x="1560" y="977.5" style="fill-opacity: 0; stroke: #4f4f4f; stroke-width: 9"/>
     <use xlink:href="#m86e2e1b672" x="1673.2" y="890.6" style="fill-opacity: 0; stroke: #4f4f4f; stroke-width: 9"/>
     <use xlink:href="#m86e2e1b672" x="1784.7" y="699.3" style="fill-opacity: 0; stroke: #4f4f4f; stroke-width: 9"/>
     <use xlink:href="#m86e2e1b672" x="1897.9" y="434.6" style="fill-opacity: 0; stroke: #4f4f4f; stroke-width: 9"/>
     <use xlink:href="#m86e2e1b672" x="2007.7" y="351.4" style="fill-opacity: 0; stroke: #4f4f4f; stroke-width: 9"/>
    </g>
   </g>
   <g id="line2d_13">
    <defs>
     <path id="m506ba9afcd" d="M 0 35.5 
C 9.41 35.5 18.45 31.76 25.1 25.1 
C 31.76 18.45 35.5 9.41 35.5 0 
C 35.5 -9.41 31.76 -18.45 25.1 -25.1 
C 18.45 -31.76 9.41 -35.5 0 -35.5 
C -9.41 -35.5 -18.45 -31.76 -25.1 -25.1 
C -31.76 -18.45 -35.5 -9.41 -35.5 0 
C -35.5 9.41 -31.76 18.45 -25.1 25.1 
C -18.45 31.76 -9.41 35.5 0 35.5 
z
" style="stroke: #e41a1c; stroke-width: 9"/>
    </defs>
    <g clip-path="url(#p20d32cc2dd)">
     <use xlink:href="#m506ba9afcd" x="453.8" y="292.5" style="fill-opacity: 0; stroke: #e41a1c; stroke-width: 9"/>
     <use xlink:href="#m506ba9afcd" x="562" y="1128" style="fill-opacity: 0; stroke: #e41a1c; stroke-width: 9"/>
     <use xlink:href="#m506ba9afcd" x="667" y="1062" style="fill-opacity: 0; stroke: #e41a1c; stroke-width: 9"/>
     <use xlink:href="#m506ba9afcd" x="782.5" y="1019" style="fill-opacity: 0; stroke: #e41a1c; stroke-width: 9"/>
     <use xlink:href="#m506ba9afcd" x="895" y="960" style="fill-opacity: 0; stroke: #e41a1c; stroke-width: 9"/>
     <use xlink:href="#m506ba9afcd" x="1005" y="882.5" style="fill-opacity: 0; stroke: #e41a1c; stroke-width: 9"/>
     <use xlink:href="#m506ba9afcd" x="1115" y="807.5" style="fill-opacity: 0; stroke: #e41a1c; stroke-width: 9"/>
     <use xlink:href="#m506ba9afcd" x="1227.5" y="750" style="fill-opacity: 0; stroke: #e41a1c; stroke-width: 9"/>
     <use xlink:href="#m506ba9afcd" x="1340" y="680" style="fill-opacity: 0; stroke: #e41a1c; stroke-width: 9"/>
     <use xlink:href="#m506ba9afcd" x="1452.5" y="635" style="fill-opacity: 0; stroke: #e41a1c; stroke-width: 9"/>
     <use xlink:href="#m506ba9afcd" x="1565" y="582.5" style="fill-opacity: 0; stroke: #e41a1c; stroke-width: 9"/>
     <use xlink:href="#m506ba9afcd" x="1671.6" y="496" style="fill-opacity: 0; stroke: #e41a1c; stroke-width: 9"/>
     <use xlink:href="#m506ba9afcd" x="1789.7" y="406" style="fill-opacity: 0; stroke: #e41a1c; stroke-width: 9"/>
     <use xlink:href="#m506ba9afcd" x="1899.6" y="323" style="fill-opacity: 0; stroke: #e41a1c; stroke-width: 9"/>
     <use xlink:href="#m506ba9afcd" x="2004.4" y="280" style="fill-opacity: 0; stroke: #e41a1c; stroke-width: 9"/>
    </g>
   </g>
   <g id="line2d_14">
    <g clip-path="url(#p7a286fae0c)">
     <use xlink:href="#m86e2e1b672" x="453.8" y="3767.5" style="fill-opacity: 0; stroke: #4f4f4f; stroke-width: 9"/>
     <use xlink:href="#m86e2e1b672" x="560" y="3414" style="fill-opacity: 0; stroke: #4f4f4f; stroke-width: 9"/>
     <use xlink:href="#m86e2e1b672" x="672.5" y="3168" style="fill-opacity: 0; stroke: #4f4f4f; stroke-width: 9"/>
     <use xlink:href="#m86e2e1b672" x="782.5" y="2987.5" style="fill-opacity: 0; stroke: #4f4f4f; stroke-width: 9"/>
     <use xlink:href="#m86e2e1b672" x="893.3" y="2842" style="fill-opacity: 0; stroke: #4f4f4f; stroke-width: 9"/>
     <use xlink:href="#m86e2e1b672" x="1006" y="2733.2" style="fill-opacity: 0; stroke: #4f4f4f; stroke-width: 9"/>
     <use xlink:href="#m86e2e1b672" x="1114.8" y="2627" style="fill-opacity: 0; stroke: #4f4f4f; stroke-width: 9"/>
     <use xlink:href="#m86e2e1b672" x="1228.5" y="2545" style="fill-opacity: 0; stroke: #4f4f4f; stroke-width: 9"/>
     <use xlink:href="#m86e2e1b672" x="1340.9" y="2480.5" style="fill-opacity: 0; stroke: #4f4f4f; stroke-width: 9"/>
     <use xlink:href="#m86e2e1b672" x="1451" y="2426.8" style="fill-opacity: 0; stroke: #4f4f4f; stroke-width: 9"/>
     <use xlink:href="#m86e2e1b672" x="1561.1" y="2362.4" style="fill-opacity: 0; stroke: #4f4f4f; stroke-width: 9"/>
     <use xlink:href="#m86e2e1b672" x="1674.1" y="2310.7" style="fill-opacity: 0; stroke: #4f4f4f; stroke-width: 9"/>
     <use xlink:href="#m86e2e1b672" x="1784.8" y="2294" style="fill-opacity: 0; stroke: #4f4f4f; stroke-width: 9"/>
     <use xlink:href="#m86e2e1b672" x="1895.6" y="2272.1" style="fill-opacity: 0; stroke: #4f4f4f; stroke-width: 9"/>
     <use xlink:href="#m86e2e1b672" x="2006.3" y="2253.7" style="fill-opacity: 0; stroke: #4f4f4f; stroke-width: 9"/>
    </g>
   </g>
   <g id="line2d_15">
    <path d="M 1445 415 
L 1537.5 570 
" style="fill: none; stroke: #000000; stroke-width: 7"/>
   </g>
   <g id="line2d_16">
    <path d="M 957.5 777.5 
L 1147.5 972.5 
" style="fill: none; stroke: #000000; stroke-width: 7"/>
   </g>
   <g id="line2d_17">
    <path d="M 745 1242.5 
L 895 1305 
" style="fill: none; stroke: #000000; stroke-width: 7"/>
   </g>
   <g id="line2d_18">
    <path d="M 1562.5 1067.5 
L 1685 1225 
" style="fill: none; stroke: #000000; stroke-width: 7"/>
   </g>
   <g id="line2d_19">
    <path d="M 677.5 1792.5 
L 730 1800 
" style="fill: none; stroke: #000000; stroke-width: 7"/>
   </g>
   <g id="line2d_20">
    <path d="M 1137.5 2420 
L 1185 2432.5 
" style="fill: none; stroke: #000000; stroke-width: 7"/>
   </g>
   <g id="line2d_21">
    <path d="M 880 2697.5 
L 982.5 2737.5 
" style="fill: none; stroke: #000000; stroke-width: 7"/>
   </g>
   <g id="line2d_22">
    <path d="M 1067.5 2945 
L 1175 2902.5 
" style="fill: none; stroke: #000000; stroke-width: 7"/>
   </g>
   <g id="line2d_23">
    <path d="M 1350 3175 
L 1490 3205 
" style="fill: none; stroke: #000000; stroke-width: 7"/>
   </g>
   <g id="text_1">
    <text style="font-size: 97.2px; font-family: 'DejaVu Sans'; text-anchor: middle" x="448.5" y="3921.5" transform="rotate(-0 448.5 3921.5)">0</text>
   </g>
   <g id="text_2">
    <text style="font-size: 97.2px; font-family: 'DejaVu Sans'; text-anchor: middle" x="689.1" y="3921.5" transform="rotate(-0 689.1 3921.5)">45</text>
   </g>
   <g id="text_3">
    <text style="font-size: 97.2px; font-family: 'DejaVu Sans'; text-anchor: middle" x="929.7" y="3921.5" transform="rotate(-0 929.7 3921.5)">90</text>
   </g>
   <g id="text_4">
    <text style="font-size: 97.2px; font-family: 'DejaVu Sans'; text-anchor: middle" x="1170.3" y="3921.5" transform="rotate(-0 1170.3 3921.5)">135</text>
   </g>
   <g id="text_5">
    <text style="font-size: 97.2px; font-family: 'DejaVu Sans'; text-anchor: middle" x="1410.9" y="3921.5" transform="rotate(-0 1410.9 3921.5)">180</text>
   </g>
   <g id="text_6">
    <text style="font-size: 97.2px; font-family: 'DejaVu Sans'; text-anchor: middle" x="1651.5" y="3921.5" transform="rotate(-0 1651.5 3921.5)">225</text>
   </g>
   <g id="text_7">
    <text style="font-size: 97.2px; font-family: 'DejaVu Sans'; text-anchor: middle" x="1892.1" y="3921.5" transform="rotate(-0 1892.1 3921.5)">270</text>
   </g>
   <g id="text_8">
    <text style="font-size: 97.2px; font-family: 'DejaVu Sans'; text-anchor: end" x="367" y="93.2" transform="rotate(-0 367 93.2)">450</text>
   </g>
   <g id="text_9">
    <text style="font-size: 97.2px; font-family: 'DejaVu Sans'; text-anchor: end" x="367" y="553.5" transform="rotate(-0 367 553.5)">425</text>
   </g>
   <g id="text_10">
    <text style="font-size: 97.2px; font-family: 'DejaVu Sans'; text-anchor: end" x="367" y="1013.8" transform="rotate(-0 367 1013.8)">400</text>
   </g>
   <g id="text_11">
    <text style="font-size: 97.2px; font-family: 'DejaVu Sans'; text-anchor: end" x="367" y="1474.1" transform="rotate(-0 367 1474.1)">375</text>
   </g>
   <g id="text_12">
    <text style="font-size: 97.2px; font-family: 'DejaVu Sans'; text-anchor: end" x="367" y="1934.4" transform="rotate(-0 367 1934.4)">350</text>
   </g>
   <g id="text_13">
    <text style="font-size: 97.2px; font-family: 'DejaVu Sans'; text-anchor: start" x="2110" y="2061.52" transform="rotate(-0 2110 2061.52)">2</text>
   </g>
   <g id="text_14">
    <text style="font-size: 97.2px; font-family: 'DejaVu Sans'; text-anchor: start" x="2110" y="1806.69" transform="rotate(-0 2110 1806.69)">3</text>
   </g>
   <g id="text_15">
    <text style="font-size: 97.2px; font-family: 'DejaVu Sans'; text-anchor: start" x="2110" y="1618.82" transform="rotate(-0 2110 1618.82)">4</text>
   </g>
   <g id="text_16">
    <text style="font-size: 97.2px; font-family: 'DejaVu Sans'; text-anchor: start" x="2110" y="1468.86" transform="rotate(-0 2110 1468.86)">5</text>
   </g>
   <g id="text_17">
    <text style="font-size: 97.2px; font-family: 'DejaVu Sans'; text-anchor: start" x="2110" y="1235.39" transform="rotate(-0 2110 1235.39)">7</text>
   </g>
   <g id="text_18">
    <text style="font-size: 97.2px; font-family: 'DejaVu Sans'; text-anchor: start" x="2110" y="977.71" transform="rotate(-0 2110 977.71)">10</text>
   </g>
   <g id="text_19">
    <text style="font-size: 97.2px; font-family: 'DejaVu Sans'; text-anchor: start" x="2110" y="444.42" transform="rotate(-0 2110 444.42)">20</text>
   </g>
   <g id="text_20">
    <text style="font-size: 97.2px; font-family: 'DejaVu Sans'; text-anchor: start" x="2110" y="110.7" transform="rotate(-0 2110 110.7)">30</text>
   </g>
   <g id="text_21">
    <text style="font-size: 97.2px; font-family: 'DejaVu Sans'; text-anchor: end" x="367" y="3804.9" transform="rotate(-0 367 3804.9)">0.0</text>
   </g>
   <g id="text_22">
    <text style="font-size: 97.2px; font-family: 'DejaVu Sans'; text-anchor: end" x="367" y="3502.1" transform="rotate(-0 367 3502.1)">0.2</text>
   </g>
   <g id="text_23">
    <text style="font-size: 97.2px; font-family: 'DejaVu Sans'; text-anchor: end" x="367" y="3199.3" transform="rotate(-0 367 3199.3)">0.4</text>
   </g>
   <g id="text_24">
    <text style="font-size: 97.2px; font-family: 'DejaVu Sans'; text-anchor: end" x="367" y="2896.5" transform="rotate(-0 367 2896.5)">0.6</text>
   </g>
   <g id="text_25">
    <text style="font-size: 97.2px; font-family: 'DejaVu Sans'; text-anchor: end" x="367" y="2593.7" transform="rotate(-0 367 2593.7)">0.8</text>
   </g>
   <g id="text_26">
    <text style="font-size: 97.2px; font-family: 'DejaVu Sans'; text-anchor: end" x="367" y="2290.9" transform="rotate(-0 367 2290.9)">1.0</text>
   </g>
   <g id="text_27">
    <text style="font-size: 97.2px; font-family: 'DejaVu Sans'; text-anchor: start" x="2110" y="3804.9" transform="rotate(-0 2110 3804.9)">0.0</text>
   </g>
   <g id="text_28">
    <text style="font-size: 97.2px; font-family: 'DejaVu Sans'; text-anchor: start" x="2110" y="3456.38" transform="rotate(-0 2110 3456.38)">0.2</text>
   </g>
   <g id="text_29">
    <text style="font-size: 97.2px; font-family: 'DejaVu Sans'; text-anchor: start" x="2110" y="3107.86" transform="rotate(-0 2110 3107.86)">0.4</text>
   </g>
   <g id="text_30">
    <text style="font-size: 97.2px; font-family: 'DejaVu Sans'; text-anchor: start" x="2110" y="2759.34" transform="rotate(-0 2110 2759.34)">0.6</text>
   </g>
   <g id="text_31">
    <text style="font-size: 97.2px; font-family: 'DejaVu Sans'; text-anchor: start" x="2110" y="2410.82" transform="rotate(-0 2110 2410.82)">0.8</text>
   </g>
   <g id="text_32">
    <text style="font-size: 118.8px; font-family: 'DejaVu Sans'; text-anchor: middle" x="1251.5" y="4076" transform="rotate(-0 1251.5 4076)">Time / min</text>
   </g>
   <g id="text_33">
    <text style="font-size: 118.8px; font-family: 'DejaVu Sans'; text-anchor: middle" x="114" y="1088" transform="rotate(-90 114 1088)">Temperature / °C</text>
   </g>
   <g id="text_34">
    <g transform="translate(131.5 3426.11) rotate(-90)">
     <text>
      <tspan x="0" y="-0.25" style="font-size: 118.8px; font-family: 'DejaVu Sans'">X</tspan>
      <tspan x="500.15" y="-0.25" style="font-size: 118.8px; font-family: 'DejaVu Sans'">,</tspan>
      <tspan x="537.9" y="-0.25" style="font-size: 118.8px; font-family: 'DejaVu Sans'"> </tspan>
      <tspan x="575.65" y="-0.25" style="font-size: 118.8px; font-family: 'DejaVu Sans'">X</tspan>
      <tspan x="808.77" y="-0.25" style="font-size: 118.8px; font-family: 'DejaVu Sans'"> </tspan>
      <tspan x="846.51" y="-0.25" style="font-size: 118.8px; font-family: 'DejaVu Sans'">/</tspan>
      <tspan x="886.52" y="-0.25" style="font-size: 118.8px; font-family: 'DejaVu Sans'"> </tspan>
      <tspan x="924.27" y="-0.25" style="font-size: 118.8px; font-family: 'DejaVu Sans'">-</tspan>
      <tspan x="82.49" y="19.27" style="font-style: oblique; font-size: 83.16px; font-family: 'DejaVu Sans'">e</tspan>
      <tspan x="133.63" y="19.27" style="font-style: oblique; font-size: 83.16px; font-family: 'DejaVu Sans'">x</tspan>
      <tspan x="182.82" y="19.27" style="font-style: oblique; font-size: 83.16px; font-family: 'DejaVu Sans'">p</tspan>
      <tspan x="278.21" y="19.27" style="font-style: oblique; font-size: 83.16px; font-family: 'DejaVu Sans'">n</tspan>
      <tspan x="330.89" y="19.27" style="font-style: oblique; font-size: 83.16px; font-family: 'DejaVu Sans'">o</tspan>
      <tspan x="381.75" y="19.27" style="font-style: oblique; font-size: 83.16px; font-family: 'DejaVu Sans'">r</tspan>
      <tspan x="415.92" y="19.27" style="font-style: oblique; font-size: 83.16px; font-family: 'DejaVu Sans'">m</tspan>
      <tspan x="658.13" y="19.27" style="font-style: oblique; font-size: 83.16px; font-family: 'DejaVu Sans'">s</tspan>
      <tspan x="701.44" y="19.27" style="font-style: oblique; font-size: 83.16px; font-family: 'DejaVu Sans'">i</tspan>
      <tspan x="724.54" y="19.27" style="font-style: oblique; font-size: 83.16px; font-family: 'DejaVu Sans'">m</tspan>
      <tspan x="235.59" y="19.27" style="font-size: 83.16px; font-family: 'DejaVu Sans'">,</tspan>
     </text>
    </g>
   </g>
   <g id="text_35">
    <g transform="translate(2369 1459.02) rotate(-90)">
     <text>
      <tspan x="0" y="-0.59" style="font-size: 118.8px; font-family: 'DejaVu Sans'">p</tspan>
      <tspan x="185.06" y="-0.59" style="font-size: 118.8px; font-family: 'DejaVu Sans'">(</tspan>
      <tspan x="412.46" y="-0.59" style="font-size: 118.8px; font-family: 'DejaVu Sans'">)</tspan>
      <tspan x="458.79" y="-0.59" style="font-size: 118.8px; font-family: 'DejaVu Sans'"> </tspan>
      <tspan x="496.54" y="-0.59" style="font-size: 118.8px; font-family: 'DejaVu Sans'">/</tspan>
      <tspan x="536.55" y="-0.59" style="font-size: 118.8px; font-family: 'DejaVu Sans'"> </tspan>
      <tspan x="574.3" y="-0.59" style="font-size: 118.8px; font-family: 'DejaVu Sans'">k</tspan>
      <tspan x="643.06" y="-0.59" style="font-size: 118.8px; font-family: 'DejaVu Sans'">P</tspan>
      <tspan x="714.67" y="-0.59" style="font-size: 118.8px; font-family: 'DejaVu Sans'">a</tspan>
      <tspan x="76.52" y="18.93" style="font-style: oblique; font-size: 83.16px; font-family: 'DejaVu Sans'">E</tspan>
      <tspan x="129.04" y="18.93" style="font-style: oblique; font-size: 83.16px; font-family: 'DejaVu Sans'">q</tspan>
      <tspan x="303.92" y="18.93" style="font-style: oblique; font-size: 83.16px; font-family: 'DejaVu Sans'">E</tspan>
      <tspan x="356.44" y="18.93" style="font-style: oblique; font-size: 83.16px; font-family: 'DejaVu Sans'">q</tspan>
      <tspan x="231.39" y="-0.59" style="font-style: oblique; font-size: 118.8px; font-family: 'DejaVu Sans'">T</tspan>
     </text>
    </g>
   </g>
   <g id="text_36">
    <g transform="translate(2395 3203.34) rotate(-90)">
     <text>
      <tspan x="0" y="-0.25" style="font-size: 118.8px; font-family: 'DejaVu Sans'">X</tspan>
      <tspan x="366.74" y="-0.25" style="font-size: 118.8px; font-family: 'DejaVu Sans'"> </tspan>
      <tspan x="404.48" y="-0.25" style="font-size: 118.8px; font-family: 'DejaVu Sans'">/</tspan>
      <tspan x="444.49" y="-0.25" style="font-size: 118.8px; font-family: 'DejaVu Sans'"> </tspan>
      <tspan x="482.24" y="-0.25" style="font-size: 118.8px; font-family: 'DejaVu Sans'">-</tspan>
      <tspan x="82.49" y="19.27" style="font-style: oblique; font-size: 83.16px; font-family: 'DejaVu Sans'">e</tspan>
      <tspan x="133.63" y="19.27" style="font-style: oblique; font-size: 83.16px; font-family: 'DejaVu Sans'">x</tspan>
      <tspan x="182.82" y="19.27" style="font-style: oblique; font-size: 83.16px; font-family: 'DejaVu Sans'">p</tspan>
      <tspan x="278.21" y="19.27" style="font-style: oblique; font-size: 83.16px; font-family: 'DejaVu Sans'">t</tspan>
      <tspan x="310.8" y="19.27" style="font-style: oblique; font-size: 83.16px; font-family: 'DejaVu Sans'">h</tspan>
      <tspan x="235.59" y="19.27" style="font-size: 83.16px; font-family: 'DejaVu Sans'">,</tspan>
     </text>
    </g>
   </g>
   <g id="text_37">
    <g transform="translate(1134.5 350.5)">
     <text>
      <tspan x="0" y="-0.25" style="font-size: 118.8px; font-family: 'DejaVu Sans'">e</tspan>
      <tspan x="73.06" y="-0.25" style="font-size: 118.8px; font-family: 'DejaVu Sans'">x</tspan>
      <tspan x="143.33" y="-0.25" style="font-size: 118.8px; font-family: 'DejaVu Sans'">p</tspan>
      <tspan x="218.71" y="-0.25" style="font-size: 118.8px; font-family: 'DejaVu Sans'"> </tspan>
      <tspan x="256.46" y="-0.25" style="font-style: oblique; font-size: 118.8px; font-family: 'DejaVu Sans'">T</tspan>
      <tspan x="329" y="19.27" style="font-size: 83.16px; font-family: 'DejaVu Sans'">0</tspan>
      <tspan x="381.88" y="19.27" style="font-size: 83.16px; font-family: 'DejaVu Sans'">.</tspan>
      <tspan x="408.31" y="19.27" style="font-size: 83.16px; font-family: 'DejaVu Sans'">5</tspan>
      <tspan x="457.43" y="19.27" style="font-style: oblique; font-size: 83.16px; font-family: 'DejaVu Sans'">R</tspan>
     </text>
    </g>
   </g>
   <g id="text_38">
    <g transform="translate(618.7 717.5)">
     <text>
      <tspan x="0" y="-0.59" style="font-size: 118.8px; font-family: 'DejaVu Sans'">s</tspan>
      <tspan x="61.87" y="-0.59" style="font-size: 118.8px; font-family: 'DejaVu Sans'">i</tspan>
      <tspan x="94.86" y="-0.59" style="font-size: 118.8px; font-family: 'DejaVu Sans'">m</tspan>
      <tspan x="210.54" y="-0.59" style="font-size: 118.8px; font-family: 'DejaVu Sans'"> </tspan>
      <tspan x="248.28" y="-0.59" style="font-style: oblique; font-size: 118.8px; font-family: 'DejaVu Sans'">T</tspan>
      <tspan x="320.82" y="18.93" style="font-size: 83.16px; font-family: 'DejaVu Sans'">0</tspan>
      <tspan x="373.71" y="18.93" style="font-size: 83.16px; font-family: 'DejaVu Sans'">.</tspan>
      <tspan x="400.13" y="18.93" style="font-size: 83.16px; font-family: 'DejaVu Sans'">5</tspan>
      <tspan x="449.26" y="18.93" style="font-style: oblique; font-size: 83.16px; font-family: 'DejaVu Sans'">R</tspan>
     </text>
    </g>
   </g>
   <g id="text_39">
    <g transform="translate(924.5 1422)">
     <text>
      <tspan x="0" y="-0.25" style="font-size: 118.8px; font-family: 'DejaVu Sans'">e</tspan>
      <tspan x="73.06" y="-0.25" style="font-size: 118.8px; font-family: 'DejaVu Sans'">x</tspan>
      <tspan x="143.33" y="-0.25" style="font-size: 118.8px; font-family: 'DejaVu Sans'">p</tspan>
      <tspan x="218.71" y="-0.25" style="font-size: 118.8px; font-family: 'DejaVu Sans'"> </tspan>
      <tspan x="256.46" y="-0.25" style="font-style: oblique; font-size: 118.8px; font-family: 'DejaVu Sans'">T</tspan>
      <tspan x="329" y="19.27" style="font-size: 83.16px; font-family: 'DejaVu Sans'">0</tspan>
     </text>
    </g>
   </g>
   <g id="text_40">
    <g transform="translate(1572 1353.5)">
     <text>
      <tspan x="0" y="-0.59" style="font-size: 118.8px; font-family: 'DejaVu Sans'">s</tspan>
      <tspan x="61.87" y="-0.59" style="font-size: 118.8px; font-family: 'DejaVu Sans'">i</tspan>
      <tspan x="94.86" y="-0.59" style="font-size: 118.8px; font-family: 'DejaVu Sans'">m</tspan>
      <tspan x="210.54" y="-0.59" style="font-size: 118.8px; font-family: 'DejaVu Sans'"> </tspan>
      <tspan x="248.28" y="-0.59" style="font-style: oblique; font-size: 118.8px; font-family: 'DejaVu Sans'">T</tspan>
      <tspan x="320.82" y="18.93" style="font-size: 83.16px; font-family: 'DejaVu Sans'">0</tspan>
     </text>
    </g>
   </g>
   <g id="text_41">
    <g transform="translate(771 1915.5)">
     <text>
      <tspan x="0" y="-0.25" style="font-size: 118.8px; font-family: 'DejaVu Sans'">e</tspan>
      <tspan x="73.06" y="-0.25" style="font-size: 118.8px; font-family: 'DejaVu Sans'">x</tspan>
      <tspan x="143.33" y="-0.25" style="font-size: 118.8px; font-family: 'DejaVu Sans'">p</tspan>
      <tspan x="218.71" y="-0.25" style="font-size: 118.8px; font-family: 'DejaVu Sans'"> </tspan>
      <tspan x="460.67" y="-0.25" style="font-size: 118.8px; font-family: 'DejaVu Sans'">≈</tspan>
      <tspan x="256.46" y="-0.25" style="font-style: oblique; font-size: 118.8px; font-family: 'DejaVu Sans'">T</tspan>
      <tspan x="329" y="19.27" style="font-style: oblique; font-size: 83.16px; font-family: 'DejaVu Sans'">E</tspan>
      <tspan x="381.52" y="19.27" style="font-style: oblique; font-size: 83.16px; font-family: 'DejaVu Sans'">q</tspan>
     </text>
    </g>
   </g>
   <g id="text_42">
    <g transform="translate(1350.7 1915.5)">
     <text>
      <tspan x="0" y="-0.59" style="font-size: 118.8px; font-family: 'DejaVu Sans'">s</tspan>
      <tspan x="61.87" y="-0.59" style="font-size: 118.8px; font-family: 'DejaVu Sans'">i</tspan>
      <tspan x="94.86" y="-0.59" style="font-size: 118.8px; font-family: 'DejaVu Sans'">m</tspan>
      <tspan x="210.54" y="-0.59" style="font-size: 118.8px; font-family: 'DejaVu Sans'"> </tspan>
      <tspan x="248.28" y="-0.59" style="font-style: oblique; font-size: 118.8px; font-family: 'DejaVu Sans'">T</tspan>
      <tspan x="320.82" y="18.93" style="font-style: oblique; font-size: 83.16px; font-family: 'DejaVu Sans'">E</tspan>
      <tspan x="373.34" y="18.93" style="font-style: oblique; font-size: 83.16px; font-family: 'DejaVu Sans'">q</tspan>
     </text>
    </g>
   </g>
   <g id="text_43">
    <text style="font-size: 129.5px; font-family: 'DejaVu Sans'; text-anchor: start" x="1795" y="2013.5" transform="rotate(-0 1795 2013.5)">(a)</text>
   </g>
   <g id="text_44">
    <text style="font-size: 118.8px; font-family: 'DejaVu Sans'; text-anchor: start" x="768.7" y="2430" transform="rotate(-0 768.7 2430)">sim X</text>
   </g>
   <g id="text_45">
    <text style="font-size: 118.8px; font-family: 'DejaVu Sans'; text-anchor: start" x="506" y="2655" transform="rotate(-0 506 2655)">exp X</text>
   </g>
   <g id="text_46">
    <g transform="translate(1143.7 2852)">
     <text>
      <tspan x="0" y="-0.59" style="font-size: 118.8px; font-family: 'DejaVu Sans'">s</tspan>
      <tspan x="61.87" y="-0.59" style="font-size: 118.8px; font-family: 'DejaVu Sans'">i</tspan>
      <tspan x="94.86" y="-0.59" style="font-size: 118.8px; font-family: 'DejaVu Sans'">m</tspan>
      <tspan x="210.54" y="-0.59" style="font-size: 118.8px; font-family: 'DejaVu Sans'"> </tspan>
      <tspan x="248.28" y="-0.59" style="font-size: 118.8px; font-family: 'DejaVu Sans'">X</tspan>
      <tspan x="330.77" y="18.93" style="font-size: 83.16px; font-family: 'DejaVu Sans'">0</tspan>
      <tspan x="383.66" y="18.93" style="font-size: 83.16px; font-family: 'DejaVu Sans'">.</tspan>
      <tspan x="410.08" y="18.93" style="font-size: 83.16px; font-family: 'DejaVu Sans'">5</tspan>
      <tspan x="459.21" y="18.93" style="font-style: oblique; font-size: 83.16px; font-family: 'DejaVu Sans'">R</tspan>
     </text>
    </g>
   </g>
   <g id="text_47">
    <g transform="translate(1528.7 3282)">
     <text>
      <tspan x="0" y="-0.59" style="font-size: 118.8px; font-family: 'DejaVu Sans'">s</tspan>
      <tspan x="61.87" y="-0.59" style="font-size: 118.8px; font-family: 'DejaVu Sans'">i</tspan>
      <tspan x="94.86" y="-0.59" style="font-size: 118.8px; font-family: 'DejaVu Sans'">m</tspan>
      <tspan x="210.54" y="-0.59" style="font-size: 118.8px; font-family: 'DejaVu Sans'"> </tspan>
      <tspan x="248.28" y="-0.59" style="font-size: 118.8px; font-family: 'DejaVu Sans'">X</tspan>
      <tspan x="330.77" y="18.93" style="font-size: 83.16px; font-family: 'DejaVu Sans'">0</tspan>
     </text>
    </g>
   </g>
   <g id="text_48">
    <text style="font-size: 129.5px; font-family: 'DejaVu Sans'; text-anchor: start" x="1792" y="3663.5" transform="rotate(-0 1792 3663.5)">(b)</text>
   </g>
   <g id="line2d_24">
    <path d="M 448.5 51.8 
L 448.5 3771.5 
" style="fill: none; stroke: #000000; stroke-width: 10"/>
   </g>
   <g id="line2d_25">
    <path d="M 2052.5 51.8 
L 2052.5 3771.5 
" style="fill: none; stroke: #000000; stroke-width: 8"/>
   </g>
   <g id="line2d_26">
    <path d="M 448.5 55.8 
L 2052.5 55.8 
" style="fill: none; stroke: #000000; stroke-width: 8"/>
   </g>
   <g id="line2d_27">
    <path d="M 448.5 2119 
L 2052.5 2119 
" style="fill: none; stroke: #000000; stroke-width: 8"/>
   </g>
   <g id="line2d_28">
    <path d="M 448.5 3767.5 
L 2052.5 3767.5 
" style="fill: none; stroke: #000000; stroke-width: 8"/>
   </g>
   <g id="line2d_29">
    <path d="M 448.5 55.8 
L 448.5 98.3 
" style="fill: none; stroke: #000000; stroke-width: 9.5"/>
   </g>
   <g id="line2d_30">
    <path d="M 448.5 2119 
L 448.5 2076.5 
" style="fill: none; stroke: #000000; stroke-width: 9.5"/>
   </g>
   <g id="line2d_31">
    <path d="M 448.5 2119 
L 448.5 2161.5 
" style="fill: none; stroke: #000000; stroke-width: 9.5"/>
   </g>
   <g id="line2d_32">
    <path d="M 448.5 3725 
L 448.5 3810 
" style="fill: none; stroke: #000000; stroke-width: 9.5"/>
   </g>
   <g id="line2d_33">
    <path d="M 570.3 55.8 
L 570.3 77.3 
" style="fill: none; stroke: #000000; stroke-width: 7"/>
   </g>
   <g id="line2d_34">
    <path d="M 570.3 2119 
L 570.3 2097.5 
" style="fill: none; stroke: #000000; stroke-width: 7"/>
   </g>
   <g id="line2d_35">
    <path d="M 570.3 2119 
L 570.3 2140.5 
" style="fill: none; stroke: #000000; stroke-width: 7"/>
   </g>
   <g id="line2d_36">
    <path d="M 570.3 3746 
L 570.3 3789 
" style="fill: none; stroke: #000000; stroke-width: 7"/>
   </g>
   <g id="line2d_37">
    <path d="M 689.1 55.8 
L 689.1 98.3 
" style="fill: none; stroke: #000000; stroke-width: 9.5"/>
   </g>
   <g id="line2d_38">
    <path d="M 689.1 2119 
L 689.1 2076.5 
" style="fill: none; stroke: #000000; stroke-width: 9.5"/>
   </g>
   <g id="line2d_39">
    <path d="M 689.1 2119 
L 689.1 2161.5 
" style="fill: none; stroke: #000000; stroke-width: 9.5"/>
   </g>
   <g id="line2d_40">
    <path d="M 689.1 3725 
L 689.1 3810 
" style="fill: none; stroke: #000000; stroke-width: 9.5"/>
   </g>
   <g id="line2d_41">
    <path d="M 810.9 55.8 
L 810.9 77.3 
" style="fill: none; stroke: #000000; stroke-width: 7"/>
   </g>
   <g id="line2d_42">
    <path d="M 810.9 2119 
L 810.9 2097.5 
" style="fill: none; stroke: #000000; stroke-width: 7"/>
   </g>
   <g id="line2d_43">
    <path d="M 810.9 2119 
L 810.9 2140.5 
" style="fill: none; stroke: #000000; stroke-width: 7"/>
   </g>
   <g id="line2d_44">
    <path d="M 810.9 3746 
L 810.9 3789 
" style="fill: none; stroke: #000000; stroke-width: 7"/>
   </g>
   <g id="line2d_45">
    <path d="M 929.7 55.8 
L 929.7 98.3 
" style="fill: none; stroke: #000000; stroke-width: 9.5"/>
   </g>
   <g id="line2d_46">
    <path d="M 929.7 2119 
L 929.7 2076.5 
" style="fill: none; stroke: #000000; stroke-width: 9.5"/>
   </g>
   <g id="line2d_47">
    <path d="M 929.7 2119 
L 929.7 2161.5 
" style="fill: none; stroke: #000000; stroke-width: 9.5"/>
   </g>
   <g id="line2d_48">
    <path d="M 929.7 3725 
L 929.7 3810 
" style="fill: none; stroke: #000000; stroke-width: 9.5"/>
   </g>
   <g id="line2d_49">
    <path d="M 1051.5 55.8 
L 1051.5 77.3 
" style="fill: none; stroke: #000000; stroke-width: 7"/>
   </g>
   <g id="line2d_50">
    <path d="M 1051.5 2119 
L 1051.5 2097.5 
" style="fill: none; stroke: #000000; stroke-width: 7"/>
   </g>
   <g id="line2d_51">
    <path d="M 1051.5 2119 
L 1051.5 2140.5 
" style="fill: none; stroke: #000000; stroke-width: 7"/>
   </g>
   <g id="line2d_52">
    <path d="M 1051.5 3746 
L 1051.5 3789 
" style="fill: none; stroke: #000000; stroke-width: 7"/>
   </g>
   <g id="line2d_53">
    <path d="M 1170.3 55.8 
L 1170.3 98.3 
" style="fill: none; stroke: #000000; stroke-width: 9.5"/>
   </g>
   <g id="line2d_54">
    <path d="M 1170.3 2119 
L 1170.3 2076.5 
" style="fill: none; stroke: #000000; stroke-width: 9.5"/>
   </g>
   <g id="line2d_55">
    <path d="M 1170.3 2119 
L 1170.3 2161.5 
" style="fill: none; stroke: #000000; stroke-width: 9.5"/>
   </g>
   <g id="line2d_56">
    <path d="M 1170.3 3725 
L 1170.3 3810 
" style="fill: none; stroke: #000000; stroke-width: 9.5"/>
   </g>
   <g id="line2d_57">
    <path d="M 1292.1 55.8 
L 1292.1 77.3 
" style="fill: none; stroke: #000000; stroke-width: 7"/>
   </g>
   <g id="line2d_58">
    <path d="M 1292.1 2119 
L 1292.1 2097.5 
" style="fill: none; stroke: #000000; stroke-width: 7"/>
   </g>
   <g id="line2d_59">
    <path d="M 1292.1 2119 
L 1292.1 2140.5 
" style="fill: none; stroke: #000000; stroke-width: 7"/>
   </g>
   <g id="line2d_60">
    <path d="M 1292.1 3746 
L 1292.1 3789 
" style="fill: none; stroke: #000000; stroke-width: 7"/>
   </g>
   <g id="line2d_61">
    <path d="M 1410.9 55.8 
L 1410.9 98.3 
" style="fill: none; stroke: #000000; stroke-width: 9.5"/>
   </g>
   <g id="line2d_62">
    <path d="M 1410.9 2119 
L 1410.9 2076.5 
" style="fill: none; stroke: #000000; stroke-width: 9.5"/>
   </g>
   <g id="line2d_63">
    <path d="M 1410.9 2119 
L 1410.9 2161.5 
" style="fill: none; stroke: #000000; stroke-width: 9.5"/>
   </g>
   <g id="line2d_64">
    <path d="M 1410.9 3725 
L 1410.9 3810 
" style="fill: none; stroke: #000000; stroke-width: 9.5"/>
   </g>
   <g id="line2d_65">
    <path d="M 1532.7 55.8 
L 1532.7 77.3 
" style="fill: none; stroke: #000000; stroke-width: 7"/>
   </g>
   <g id="line2d_66">
    <path d="M 1532.7 2119 
L 1532.7 2097.5 
" style="fill: none; stroke: #000000; stroke-width: 7"/>
   </g>
   <g id="line2d_67">
    <path d="M 1532.7 2119 
L 1532.7 2140.5 
" style="fill: none; stroke: #000000; stroke-width: 7"/>
   </g>
   <g id="line2d_68">
    <path d="M 1532.7 3746 
L 1532.7 3789 
" style="fill: none; stroke: #000000; stroke-width: 7"/>
   </g>
   <g id="line2d_69">
    <path d="M 1651.5 55.8 
L 1651.5 98.3 
" style="fill: none; stroke: #000000; stroke-width: 9.5"/>
   </g>
   <g id="line2d_70">
    <path d="M 1651.5 2119 
L 1651.5 2076.5 
" style="fill: none; stroke: #000000; stroke-width: 9.5"/>
   </g>
   <g id="line2d_71">
    <path d="M 1651.5 2119 
L 1651.5 2161.5 
" style="fill: none; stroke: #000000; stroke-width: 9.5"/>
   </g>
   <g id="line2d_72">
    <path d="M 1651.5 3725 
L 1651.5 3810 
" style="fill: none; stroke: #000000; stroke-width: 9.5"/>
   </g>
   <g id="line2d_73">
    <path d="M 1773.3 55.8 
L 1773.3 77.3 
" style="fill: none; stroke: #000000; stroke-width: 7"/>
   </g>
   <g id="line2d_74">
    <path d="M 1773.3 2119 
L 1773.3 2097.5 
" style="fill: none; stroke: #000000; stroke-width: 7"/>
   </g>
   <g id="line2d_75">
    <path d="M 1773.3 2119 
L 1773.3 2140.5 
" style="fill: none; stroke: #000000; stroke-width: 7"/>
   </g>
   <g id="line2d_76">
    <path d="M 1773.3 3746 
L 1773.3 3789 
" style="fill: none; stroke: #000000; stroke-width: 7"/>
   </g>
   <g id="line2d_77">
    <path d="M 1892.1 55.8 
L 1892.1 98.3 
" style="fill: none; stroke: #000000; stroke-width: 9.5"/>
   </g>
   <g id="line2d_78">
    <path d="M 1892.1 2119 
L 1892.1 2076.5 
" style="fill: none; stroke: #000000; stroke-width: 9.5"/>
   </g>
   <g id="line2d_79">
    <path d="M 1892.1 2119 
L 1892.1 2161.5 
" style="fill: none; stroke: #000000; stroke-width: 9.5"/>
   </g>
   <g id="line2d_80">
    <path d="M 1892.1 3725 
L 1892.1 3810 
" style="fill: none; stroke: #000000; stroke-width: 9.5"/>
   </g>
   <g id="line2d_81">
    <path d="M 2013.9 55.8 
L 2013.9 77.3 
" style="fill: none; stroke: #000000; stroke-width: 7"/>
   </g>
   <g id="line2d_82">
    <path d="M 2013.9 2119 
L 2013.9 2097.5 
" style="fill: none; stroke: #000000; stroke-width: 7"/>
   </g>
   <g id="line2d_83">
    <path d="M 2013.9 2119 
L 2013.9 2140.5 
" style="fill: none; stroke: #000000; stroke-width: 7"/>
   </g>
   <g id="line2d_84">
    <path d="M 2013.9 3746 
L 2013.9 3789 
" style="fill: none; stroke: #000000; stroke-width: 7"/>
   </g>
   <g id="line2d_85">
    <path d="M 406 55.8 
L 491 55.8 
" style="fill: none; stroke: #000000; stroke-width: 9.5"/>
   </g>
   <g id="line2d_86">
    <path d="M 406 516.1 
L 491 516.1 
" style="fill: none; stroke: #000000; stroke-width: 9.5"/>
   </g>
   <g id="line2d_87">
    <path d="M 406 976.4 
L 491 976.4 
" style="fill: none; stroke: #000000; stroke-width: 9.5"/>
   </g>
   <g id="line2d_88">
    <path d="M 406 1436.7 
L 491 1436.7 
" style="fill: none; stroke: #000000; stroke-width: 9.5"/>
   </g>
   <g id="line2d_89">
    <path d="M 406 1897 
L 491 1897 
" style="fill: none; stroke: #000000; stroke-width: 9.5"/>
   </g>
   <g id="line2d_90">
    <path d="M 427 285.95 
L 470 285.95 
" style="fill: none; stroke: #000000; stroke-width: 7"/>
   </g>
   <g id="line2d_91">
    <path d="M 427 746.25 
L 470 746.25 
" style="fill: none; stroke: #000000; stroke-width: 7"/>
   </g>
   <g id="line2d_92">
    <path d="M 427 1206.55 
L 470 1206.55 
" style="fill: none; stroke: #000000; stroke-width: 7"/>
   </g>
   <g id="line2d_93">
    <path d="M 427 1666.85 
L 470 1666.85 
" style="fill: none; stroke: #000000; stroke-width: 7"/>
   </g>
   <g id="line2d_94">
    <path d="M 2031.5 2024.12 
L 2073.5 2024.12 
" style="fill: none; stroke: #000000; stroke-width: 9.5"/>
   </g>
   <g id="line2d_95">
    <path d="M 2031.5 1769.29 
L 2073.5 1769.29 
" style="fill: none; stroke: #000000; stroke-width: 9.5"/>
   </g>
   <g id="line2d_96">
    <path d="M 2031.5 1581.42 
L 2073.5 1581.42 
" style="fill: none; stroke: #000000; stroke-width: 9.5"/>
   </g>
   <g id="line2d_97">
    <path d="M 2031.5 1431.46 
L 2073.5 1431.46 
" style="fill: none; stroke: #000000; stroke-width: 9.5"/>
   </g>
   <g id="line2d_98">
    <path d="M 2031.5 1197.99 
L 2073.5 1197.99 
" style="fill: none; stroke: #000000; stroke-width: 9.5"/>
   </g>
   <g id="line2d_99">
    <path d="M 2031.5 940.31 
L 2073.5 940.31 
" style="fill: none; stroke: #000000; stroke-width: 9.5"/>
   </g>
   <g id="line2d_100">
    <path d="M 2031.5 407.02 
L 2073.5 407.02 
" style="fill: none; stroke: #000000; stroke-width: 9.5"/>
   </g>
   <g id="line2d_101">
    <path d="M 2031.5 73.3 
L 2073.5 73.3 
" style="fill: none; stroke: #000000; stroke-width: 9.5"/>
   </g>
   <g id="line2d_102">
    <path d="M 406 3767.5 
L 491 3767.5 
" style="fill: none; stroke: #000000; stroke-width: 9.5"/>
   </g>
   <g id="line2d_103">
    <path d="M 427 3616.1 
L 470 3616.1 
" style="fill: none; stroke: #000000; stroke-width: 7"/>
   </g>
   <g id="line2d_104">
    <path d="M 406 3464.7 
L 491 3464.7 
" style="fill: none; stroke: #000000; stroke-width: 9.5"/>
   </g>
   <g id="line2d_105">
    <path d="M 427 3313.3 
L 470 3313.3 
" style="fill: none; stroke: #000000; stroke-width: 7"/>
   </g>
   <g id="line2d_106">
    <path d="M 406 3161.9 
L 491 3161.9 
" style="fill: none; stroke: #000000; stroke-width: 9.5"/>
   </g>
   <g id="line2d_107">
    <path d="M 427 3010.5 
L 470 3010.5 
" style="fill: none; stroke: #000000; stroke-width: 7"/>
   </g>
   <g id="line2d_108">
    <path d="M 406 2859.1 
L 491 2859.1 
" style="fill: none; stroke: #000000; stroke-width: 9.5"/>
   </g>
   <g id="line2d_109">
    <path d="M 427 2707.7 
L 470 2707.7 
" style="fill: none; stroke: #000000; stroke-width: 7"/>
   </g>
   <g id="line2d_110">
    <path d="M 406 2556.3 
L 491 2556.3 
" style="fill: none; stroke: #000000; stroke-width: 9.5"/>
   </g>
   <g id="line2d_111">
    <path d="M 427 2404.9 
L 470 2404.9 
" style="fill: none; stroke: #000000; stroke-width: 7"/>
   </g>
   <g id="line2d_112">
    <path d="M 406 2253.5 
L 491 2253.5 
" style="fill: none; stroke: #000000; stroke-width: 9.5"/>
   </g>
   <g id="line2d_113">
    <path d="M 2031.5 3767.5 
L 2073.5 3767.5 
" style="fill: none; stroke: #000000; stroke-width: 9.5"/>
   </g>
   <g id="line2d_114">
    <path d="M 2031.5 3418.98 
L 2073.5 3418.98 
" style="fill: none; stroke: #000000; stroke-width: 9.5"/>
   </g>
   <g id="line2d_115">
    <path d="M 2031.5 3070.46 
L 2073.5 3070.46 
" style="fill: none; stroke: #000000; stroke-width: 9.5"/>
   </g>
   <g id="line2d_116">
    <path d="M 2031.5 2721.94 
L 2073.5 2721.94 
" style="fill: none; stroke: #000000; stroke-width: 9.5"/>
   </g>
   <g id="line2d_117">
    <path d="M 2031.5 2373.42 
L 2073.5 2373.42 
" style="fill: none; stroke: #000000; stroke-width: 9.5"/>
   </g>
  </g>
 </g>
 <defs>
  <clipPath id="p20d32cc2dd">
   <rect x="448.5" y="55.8" width="1604" height="2063.2"/>
  </clipPath>
  <clipPath id="p7a286fae0c">
   <rect x="448.5" y="2119" width="1604" height="1648.5"/>
  </clipPath>
 </defs>
</svg>

</body></html>
